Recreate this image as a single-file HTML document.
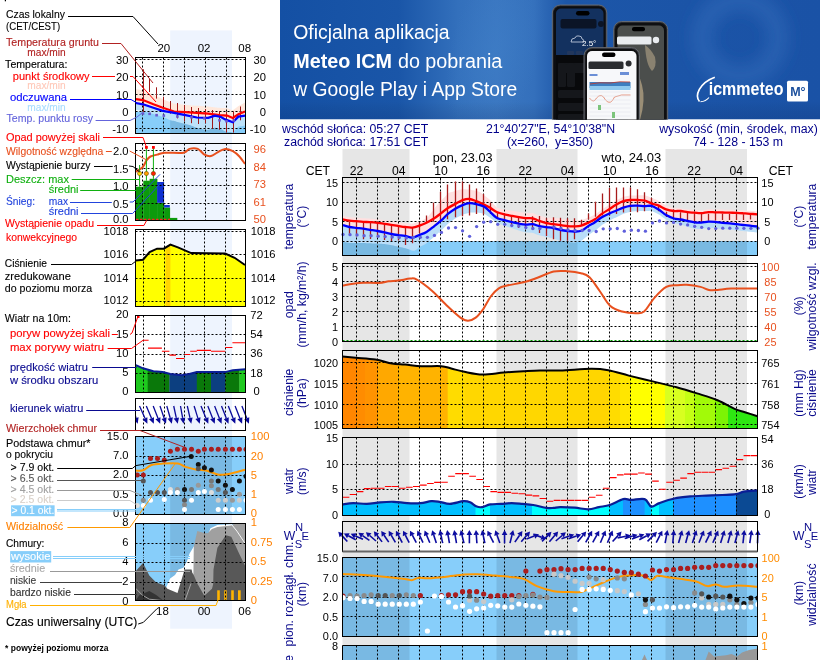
<!DOCTYPE html>
<html><head><meta charset="utf-8"><title>Meteogram ICM</title>
<style>
html,body{margin:0;padding:0;background:#fff;width:820px;height:660px;overflow:hidden}
svg{display:block}
svg text{font-family:'Liberation Sans', Arial, sans-serif}
</style></head><body>
<svg width="820" height="660" viewBox="0 0 820 660">
<rect width="820" height="660" fill="#fff"/>
<rect x="342.5" y="149" width="67.0" height="511" fill="#e6e6e6"/>
<rect x="496.5" y="149" width="81.0" height="511" fill="#e6e6e6"/>
<rect x="665.5" y="149" width="81.5" height="511" fill="#e6e6e6"/>
<clipPath id="cT"><rect x="342.5" y="177.5" width="415.0" height="78.0"/></clipPath>
<g clip-path="url(#cT)">
<rect x="342.5" y="241.2" width="415.0" height="14.800000000000011" fill="#86cdf9"/>
<rect x="342.5" y="241.2" width="67.0" height="14.800000000000011" fill="#79b9e1"/>
<rect x="496.5" y="241.2" width="81.0" height="14.800000000000011" fill="#79b9e1"/>
<rect x="665.5" y="241.2" width="81.5" height="14.800000000000011" fill="#79b9e1"/>
<polygon points="342.50,215.90 344.00,216.17 345.50,216.44 347.00,216.71 348.50,216.98 350.00,217.19 351.50,217.32 353.00,217.44 354.50,217.56 356.00,217.68 357.50,217.80 359.00,217.92 360.50,218.03 362.00,218.15 363.50,218.26 365.00,218.34 366.50,218.41 368.00,218.49 369.50,218.57 371.00,218.68 372.50,218.80 374.00,218.93 375.50,219.05 377.00,219.18 378.50,219.34 380.00,219.53 381.50,219.71 383.00,219.90 384.50,220.09 386.00,220.30 387.50,220.51 389.00,220.72 390.50,220.93 392.00,221.14 393.50,221.37 395.00,221.60 396.50,221.83 398.00,222.05 399.50,222.29 401.00,222.52 402.50,222.75 404.00,222.98 405.50,223.16 407.00,223.27 408.50,223.38 410.00,223.49 411.50,223.60 413.00,223.46 414.50,223.04 416.00,222.62 417.50,222.19 419.00,221.77 420.50,221.19 422.00,220.48 423.50,219.76 425.00,219.04 426.50,218.33 428.00,216.75 429.50,214.86 431.00,212.96 432.50,211.07 434.00,209.17 435.50,207.06 437.00,204.90 438.50,203.39 440.00,201.88 441.50,200.37 443.00,198.81 444.50,197.24 446.00,195.68 447.50,194.11 449.00,192.79 450.50,192.35 452.00,191.90 453.50,191.46 455.00,191.02 456.50,190.61 458.00,190.23 459.50,189.85 461.00,189.47 462.50,189.09 464.00,189.18 465.50,189.30 467.00,189.41 468.50,189.53 470.00,189.59 471.50,189.91 473.00,190.23 474.50,190.55 476.00,190.87 477.50,191.34 479.00,191.82 480.50,192.51 482.00,193.59 483.50,194.72 485.00,195.92 486.50,197.11 488.00,198.31 489.50,199.50 491.00,201.06 492.50,202.76 494.00,204.46 495.50,206.16 497.00,207.72 498.50,208.11 500.00,208.50 501.50,208.88 503.00,209.27 504.50,209.64 506.00,209.86 507.50,210.07 509.00,210.28 510.50,210.56 512.00,210.83 513.50,211.08 515.00,211.33 516.50,211.58 518.00,211.83 519.50,212.06 521.00,212.27 522.50,212.47 524.00,212.67 525.50,212.87 527.00,212.95 528.50,212.97 530.00,213.00 531.50,213.03 533.00,213.18 534.50,213.78 536.00,214.39 537.50,214.99 539.00,215.51 540.50,215.90 542.00,216.30 543.50,216.70 545.00,217.10 546.50,217.46 548.00,217.58 549.50,217.69 551.00,217.80 552.50,217.92 554.00,218.03 555.50,218.14 557.00,218.26 558.50,218.37 560.00,218.48 561.50,218.77 563.00,219.07 564.50,219.37 566.00,219.66 567.50,219.96 569.00,220.11 570.50,220.23 572.00,220.36 573.50,220.48 575.00,220.54 576.50,220.46 578.00,220.38 579.50,220.31 581.00,220.23 582.50,219.78 584.00,219.23 585.50,218.67 587.00,218.12 588.50,217.55 590.00,216.88 591.50,216.20 593.00,215.53 594.50,214.86 596.00,213.90 597.50,212.78 599.00,211.67 600.50,210.53 602.00,209.37 603.50,208.43 605.00,207.49 606.50,206.55 608.00,205.61 609.50,204.66 611.00,203.71 612.50,202.75 614.00,201.79 615.50,200.84 617.00,199.95 618.50,199.20 620.00,198.45 621.50,197.70 623.00,196.95 624.50,196.59 626.00,196.32 627.50,196.05 629.00,195.78 630.50,195.60 632.00,195.60 633.50,195.60 635.00,195.60 636.50,195.47 638.00,195.35 639.50,195.33 641.00,195.31 642.50,195.29 644.00,195.27 645.50,195.56 647.00,196.06 648.50,196.56 650.00,197.06 651.50,197.67 653.00,198.31 654.50,198.95 656.00,199.60 657.50,200.24 659.00,201.03 660.50,201.98 662.00,202.93 663.50,203.88 665.00,204.84 666.50,205.68 668.00,206.21 669.50,206.73 671.00,207.26 672.50,207.79 674.00,208.30 675.50,208.29 677.00,208.29 678.50,208.28 680.00,208.28 681.50,208.41 683.00,208.67 684.50,208.92 686.00,209.18 687.50,209.43 689.00,209.55 690.50,209.65 692.00,209.76 693.50,209.86 695.00,209.97 696.50,210.07 698.00,210.18 699.50,210.28 701.00,210.39 702.50,210.20 704.00,209.96 705.50,209.72 707.00,209.48 708.50,209.28 710.00,209.32 711.50,209.36 713.00,209.40 714.50,209.44 716.00,209.48 717.50,209.51 719.00,209.54 720.50,209.58 722.00,209.61 723.50,209.65 725.00,209.68 726.50,209.72 728.00,209.75 729.50,209.79 731.00,209.83 732.50,209.86 734.00,209.90 735.50,209.94 737.00,209.99 738.50,210.08 740.00,210.16 741.50,210.25 743.00,210.33 744.50,210.44 746.00,210.54 747.50,210.65 749.00,210.76 750.50,210.86 752.00,210.95 753.50,211.05 755.00,211.14 756.50,211.24 758.00,211.30 758.00,226.50 756.50,226.39 755.00,226.23 753.50,226.07 752.00,225.91 750.50,225.75 749.00,225.60 747.50,225.44 746.00,225.28 744.50,225.13 743.00,224.96 741.50,224.78 740.00,224.60 738.50,224.42 737.00,224.24 735.50,224.04 734.00,223.84 732.50,223.64 731.00,223.43 729.50,223.27 728.00,223.19 726.50,223.11 725.00,223.03 723.50,222.95 722.00,222.83 720.50,222.63 719.00,222.43 717.50,222.23 716.00,222.03 714.50,221.89 713.00,221.84 711.50,221.80 710.00,221.75 708.50,221.71 707.00,221.86 705.50,222.05 704.00,222.25 702.50,222.44 701.00,222.59 699.50,222.55 698.00,222.51 696.50,222.46 695.00,222.42 693.50,222.21 692.00,221.91 690.50,221.60 689.00,221.29 687.50,220.98 686.00,220.65 684.50,220.33 683.00,220.00 681.50,219.67 680.00,219.40 678.50,219.18 677.00,218.96 675.50,218.74 674.00,218.51 672.50,217.89 671.00,217.24 669.50,216.58 668.00,215.93 666.50,215.27 665.00,214.28 663.50,213.17 662.00,212.05 660.50,210.94 659.00,209.82 657.50,208.90 656.00,208.15 654.50,207.40 653.00,206.65 651.50,205.90 650.00,205.94 648.50,205.99 647.00,206.03 645.50,206.07 644.00,206.06 642.50,205.95 641.00,205.84 639.50,205.72 638.00,205.61 636.50,205.63 635.00,205.67 633.50,205.71 632.00,205.75 630.50,205.79 629.00,206.09 627.50,206.49 626.00,206.89 624.50,207.28 623.00,207.73 621.50,208.37 620.00,209.01 618.50,209.65 617.00,210.29 615.50,210.92 614.00,211.55 612.50,212.18 611.00,212.81 609.50,213.45 608.00,214.20 606.50,214.95 605.00,215.70 603.50,216.45 602.00,217.20 600.50,218.24 599.00,219.32 597.50,220.40 596.00,221.48 594.50,222.49 593.00,223.35 591.50,224.21 590.00,225.07 588.50,225.93 587.00,226.92 585.50,227.94 584.00,228.96 582.50,229.98 581.00,230.83 579.50,230.99 578.00,231.14 576.50,231.29 575.00,231.45 573.50,231.43 572.00,231.32 570.50,231.21 569.00,231.10 567.50,230.97 566.00,230.75 564.50,230.53 563.00,230.31 561.50,230.09 560.00,229.77 558.50,229.38 557.00,228.99 555.50,228.60 554.00,228.21 552.50,227.91 551.00,227.71 549.50,227.52 548.00,227.32 546.50,227.13 545.00,226.90 543.50,226.67 542.00,226.44 540.50,226.21 539.00,225.98 537.50,225.59 536.00,225.12 534.50,224.66 533.00,224.19 531.50,224.19 530.00,224.30 528.50,224.41 527.00,224.52 525.50,224.55 524.00,224.35 522.50,224.16 521.00,223.96 519.50,223.77 518.00,223.48 516.50,223.15 515.00,222.82 513.50,222.49 512.00,222.15 510.50,221.76 509.00,221.38 507.50,220.99 506.00,220.61 504.50,220.23 503.00,219.77 501.50,219.31 500.00,218.85 498.50,218.38 497.00,217.92 495.50,216.78 494.00,215.39 492.50,214.00 491.00,212.61 489.50,211.25 488.00,210.01 486.50,208.76 485.00,207.51 483.50,206.47 482.00,205.98 480.50,205.50 479.00,205.01 477.50,204.52 476.00,204.07 474.50,203.88 473.00,203.68 471.50,203.48 470.00,203.28 468.50,203.45 467.00,203.87 465.50,204.29 464.00,204.71 462.50,205.15 461.00,205.89 459.50,206.63 458.00,207.37 456.50,208.11 455.00,208.98 453.50,210.02 452.00,211.06 450.50,212.10 449.00,213.14 447.50,214.30 446.00,215.80 444.50,217.30 443.00,218.80 441.50,220.28 440.00,221.49 438.50,222.71 437.00,223.92 435.50,225.13 434.00,226.33 432.50,227.46 431.00,228.60 429.50,229.73 428.00,230.87 426.50,232.00 425.00,232.63 423.50,233.26 422.00,233.89 420.50,234.52 419.00,235.12 417.50,235.68 416.00,236.23 414.50,236.79 413.00,237.34 411.50,237.42 410.00,237.07 408.50,236.73 407.00,236.38 405.50,236.04 404.00,235.79 402.50,235.62 401.00,235.44 399.50,235.26 398.00,235.08 396.50,234.84 395.00,234.61 393.50,234.37 392.00,234.13 390.50,233.83 389.00,233.45 387.50,233.08 386.00,232.70 384.50,232.33 383.00,232.03 381.50,231.75 380.00,231.46 378.50,231.17 377.00,230.91 375.50,230.67 374.00,230.44 372.50,230.21 371.00,229.97 369.50,229.74 368.00,229.49 366.50,229.25 365.00,229.01 363.50,228.76 362.00,228.57 360.50,228.40 359.00,228.22 357.50,228.05 356.00,227.87 354.50,227.68 353.00,227.48 351.50,227.28 350.00,227.08 348.50,226.74 347.00,226.30 345.50,225.87 344.00,225.43 342.50,225.00" fill="#ffe0e0"/>
<polygon points="342.50,225.00 344.00,225.43 345.50,225.87 347.00,226.30 348.50,226.74 350.00,227.08 351.50,227.28 353.00,227.48 354.50,227.68 356.00,227.87 357.50,228.05 359.00,228.22 360.50,228.40 362.00,228.57 363.50,228.76 365.00,229.01 366.50,229.25 368.00,229.49 369.50,229.74 371.00,229.97 372.50,230.21 374.00,230.44 375.50,230.67 377.00,230.91 378.50,231.17 380.00,231.46 381.50,231.75 383.00,232.03 384.50,232.33 386.00,232.70 387.50,233.08 389.00,233.45 390.50,233.83 392.00,234.13 393.50,234.37 395.00,234.61 396.50,234.84 398.00,235.08 399.50,235.26 401.00,235.44 402.50,235.62 404.00,235.79 405.50,236.04 407.00,236.38 408.50,236.73 410.00,237.07 411.50,237.42 413.00,237.34 414.50,236.79 416.00,236.23 417.50,235.68 419.00,235.12 420.50,234.52 422.00,233.89 423.50,233.26 425.00,232.63 426.50,232.00 428.00,230.87 429.50,229.73 431.00,228.60 432.50,227.46 434.00,226.33 435.50,225.13 437.00,223.92 438.50,222.71 440.00,221.49 441.50,220.28 443.00,218.80 444.50,217.30 446.00,215.80 447.50,214.30 449.00,213.14 450.50,212.10 452.00,211.06 453.50,210.02 455.00,208.98 456.50,208.11 458.00,207.37 459.50,206.63 461.00,205.89 462.50,205.15 464.00,204.71 465.50,204.29 467.00,203.87 468.50,203.45 470.00,203.28 471.50,203.48 473.00,203.68 474.50,203.88 476.00,204.07 477.50,204.52 479.00,205.01 480.50,205.50 482.00,205.98 483.50,206.47 485.00,207.51 486.50,208.76 488.00,210.01 489.50,211.25 491.00,212.61 492.50,214.00 494.00,215.39 495.50,216.78 497.00,217.92 498.50,218.38 500.00,218.85 501.50,219.31 503.00,219.77 504.50,220.23 506.00,220.61 507.50,220.99 509.00,221.38 510.50,221.76 512.00,222.15 513.50,222.49 515.00,222.82 516.50,223.15 518.00,223.48 519.50,223.77 521.00,223.96 522.50,224.16 524.00,224.35 525.50,224.55 527.00,224.52 528.50,224.41 530.00,224.30 531.50,224.19 533.00,224.19 534.50,224.66 536.00,225.12 537.50,225.59 539.00,225.98 540.50,226.21 542.00,226.44 543.50,226.67 545.00,226.90 546.50,227.13 548.00,227.32 549.50,227.52 551.00,227.71 552.50,227.91 554.00,228.21 555.50,228.60 557.00,228.99 558.50,229.38 560.00,229.77 561.50,230.09 563.00,230.31 564.50,230.53 566.00,230.75 567.50,230.97 569.00,231.10 570.50,231.21 572.00,231.32 573.50,231.43 575.00,231.45 576.50,231.29 578.00,231.14 579.50,230.99 581.00,230.83 582.50,229.98 584.00,228.96 585.50,227.94 587.00,226.92 588.50,225.93 590.00,225.07 591.50,224.21 593.00,223.35 594.50,222.49 596.00,221.48 597.50,220.40 599.00,219.32 600.50,218.24 602.00,217.20 603.50,216.45 605.00,215.70 606.50,214.95 608.00,214.20 609.50,213.45 611.00,212.81 612.50,212.18 614.00,211.55 615.50,210.92 617.00,210.29 618.50,209.65 620.00,209.01 621.50,208.37 623.00,207.73 624.50,207.28 626.00,206.89 627.50,206.49 629.00,206.09 630.50,205.79 632.00,205.75 633.50,205.71 635.00,205.67 636.50,205.63 638.00,205.61 639.50,205.72 641.00,205.84 642.50,205.95 644.00,206.06 645.50,206.07 647.00,206.03 648.50,205.99 650.00,205.94 651.50,205.90 653.00,206.65 654.50,207.40 656.00,208.15 657.50,208.90 659.00,209.82 660.50,210.94 662.00,212.05 663.50,213.17 665.00,214.28 666.50,215.27 668.00,215.93 669.50,216.58 671.00,217.24 672.50,217.89 674.00,218.51 675.50,218.74 677.00,218.96 678.50,219.18 680.00,219.40 681.50,219.67 683.00,220.00 684.50,220.33 686.00,220.65 687.50,220.98 689.00,221.29 690.50,221.60 692.00,221.91 693.50,222.21 695.00,222.42 696.50,222.46 698.00,222.51 699.50,222.55 701.00,222.59 702.50,222.44 704.00,222.25 705.50,222.05 707.00,221.86 708.50,221.71 710.00,221.75 711.50,221.80 713.00,221.84 714.50,221.89 716.00,222.03 717.50,222.23 719.00,222.43 720.50,222.63 722.00,222.83 723.50,222.95 725.00,223.03 726.50,223.11 728.00,223.19 729.50,223.27 731.00,223.43 732.50,223.64 734.00,223.84 735.50,224.04 737.00,224.24 738.50,224.42 740.00,224.60 741.50,224.78 743.00,224.96 744.50,225.13 746.00,225.28 747.50,225.44 749.00,225.60 750.50,225.75 752.00,225.91 753.50,226.07 755.00,226.23 756.50,226.39 758.00,226.50 758.00,232.50 756.50,232.40 755.00,232.25 753.50,232.10 752.00,231.95 750.50,231.80 749.00,231.65 747.50,231.50 746.00,231.35 744.50,231.21 743.00,231.05 741.50,230.88 740.00,230.71 738.50,230.54 737.00,230.37 735.50,230.18 734.00,229.99 732.50,229.79 731.00,229.60 729.50,229.45 728.00,229.38 726.50,229.31 725.00,229.24 723.50,229.17 722.00,229.06 720.50,228.87 719.00,228.68 717.50,228.49 716.00,228.29 714.50,228.16 713.00,228.12 711.50,228.09 710.00,228.05 708.50,228.01 707.00,228.18 705.50,228.38 704.00,228.58 702.50,228.78 701.00,228.95 699.50,228.92 698.00,228.88 696.50,228.85 695.00,228.81 693.50,228.56 692.00,228.11 690.50,227.65 689.00,227.19 687.50,226.73 686.00,226.25 684.50,225.78 683.00,225.30 681.50,224.82 680.00,224.40 678.50,224.03 677.00,223.66 675.50,223.29 674.00,222.91 672.50,222.32 671.00,221.70 669.50,221.08 668.00,220.45 666.50,219.83 665.00,218.87 663.50,217.78 662.00,216.70 660.50,215.62 659.00,214.53 657.50,213.64 656.00,212.92 654.50,212.20 653.00,211.48 651.50,210.77 650.00,210.84 648.50,210.91 647.00,210.99 645.50,211.06 644.00,211.12 642.50,211.11 641.00,211.10 639.50,211.09 638.00,211.08 636.50,211.20 635.00,211.34 633.50,211.48 632.00,211.62 630.50,211.76 629.00,212.14 627.50,212.61 626.00,213.09 624.50,213.56 623.00,214.08 621.50,214.79 620.00,215.51 618.50,216.22 617.00,216.94 615.50,217.65 614.00,218.35 612.50,219.06 611.00,219.76 609.50,220.50 608.00,221.40 606.50,222.30 605.00,223.20 603.50,224.10 602.00,225.00 600.50,226.19 599.00,227.42 597.50,228.65 596.00,229.88 594.50,231.04 593.00,232.05 591.50,233.06 590.00,234.07 588.50,235.13 587.00,236.32 585.50,237.54 584.00,238.76 582.50,239.98 581.00,241.03 579.50,241.39 578.00,241.74 576.50,242.09 575.00,242.45 573.50,242.43 572.00,242.32 570.50,242.21 569.00,242.10 567.50,241.97 566.00,241.75 564.50,241.53 563.00,241.31 561.50,241.09 560.00,240.77 558.50,240.25 557.00,239.74 555.50,239.23 554.00,238.72 552.50,238.30 551.00,237.98 549.50,237.66 548.00,237.34 546.50,237.03 545.00,236.68 543.50,236.32 542.00,235.97 540.50,235.62 539.00,235.27 537.50,234.76 536.00,234.17 534.50,233.58 533.00,232.99 531.50,232.79 530.00,232.70 528.50,232.61 527.00,232.52 525.50,232.35 524.00,231.95 522.50,231.56 521.00,231.16 519.50,230.77 518.00,230.28 516.50,229.75 515.00,229.22 513.50,228.69 512.00,228.15 510.50,227.67 509.00,227.19 507.50,226.71 506.00,226.24 504.50,225.76 503.00,225.21 501.50,224.65 500.00,224.10 498.50,223.54 497.00,222.99 495.50,221.86 494.00,220.72 492.50,219.58 491.00,218.45 489.50,217.33 488.00,216.34 486.50,215.34 485.00,214.35 483.50,213.55 482.00,213.32 480.50,213.08 479.00,212.84 477.50,212.61 476.00,212.41 474.50,212.46 473.00,212.51 471.50,212.56 470.00,212.61 468.50,212.96 467.00,213.41 465.50,213.85 464.00,214.30 462.50,214.76 461.00,215.53 459.50,216.29 458.00,217.06 456.50,217.82 455.00,218.73 453.50,219.79 452.00,220.85 450.50,221.92 449.00,222.98 447.50,224.17 446.00,225.70 444.50,227.22 443.00,228.75 441.50,230.25 440.00,231.49 438.50,232.86 437.00,234.22 435.50,235.58 434.00,236.93 432.50,238.21 431.00,239.50 429.50,240.78 428.00,242.07 426.50,243.35 425.00,244.13 423.50,244.91 422.00,245.69 420.50,246.47 419.00,247.52 417.50,248.68 416.00,249.83 414.50,250.65 413.00,250.78 411.50,250.44 410.00,249.67 408.50,249.20 407.00,248.73 405.50,248.26 404.00,247.89 402.50,247.59 401.00,247.28 399.50,246.98 398.00,246.67 396.50,246.31 395.00,245.94 393.50,245.58 392.00,245.21 390.50,244.88 389.00,244.69 387.50,244.49 386.00,244.29 384.50,244.09 383.00,243.97 381.50,243.86 380.00,243.75 378.50,243.64 377.00,243.55 375.50,243.49 374.00,243.44 372.50,243.38 371.00,243.32 369.50,243.26 368.00,243.20 366.50,243.13 365.00,243.06 363.50,243.00 362.00,242.98 360.50,242.98 359.00,242.99 357.50,242.99 356.00,242.99 354.50,242.96 353.00,242.94 351.50,242.92 350.00,242.90 348.50,242.73 347.00,242.48 345.50,242.22 344.00,241.96 342.50,241.70" fill="#b9ddf8"/>
</g>
<clipPath id="cP"><rect x="342.5" y="350.5" width="415.0" height="78.0"/></clipPath>
<defs><clipPath id="cPf"><path d="M342.50,356.40 C344.70,356.62 350.20,357.17 355.70,357.70 C361.20,358.23 369.45,358.62 375.50,359.60 C381.55,360.58 387.07,362.77 392.00,363.60 C396.93,364.43 400.17,364.17 405.10,364.60 C410.03,365.03 415.57,365.93 421.60,366.20 C427.63,366.47 436.37,365.82 441.30,366.20 C446.23,366.58 447.35,367.57 451.20,368.50 C455.05,369.43 459.18,370.80 464.40,371.80 C469.62,372.80 475.92,374.38 482.50,374.50 C489.08,374.62 497.05,373.05 503.90,372.50 C510.75,371.95 517.58,371.55 523.60,371.20 C529.62,370.85 533.85,370.52 540.00,370.40 C546.15,370.28 551.97,370.77 560.50,370.50 C569.03,370.23 583.23,368.85 591.20,368.80 C599.17,368.75 602.03,369.07 608.30,370.20 C614.57,371.33 621.40,373.73 628.80,375.60 C636.20,377.47 644.73,379.45 652.70,381.40 C660.67,383.35 669.22,385.30 676.60,387.30 C683.98,389.30 690.18,391.25 697.00,393.40 C703.82,395.55 711.23,397.63 717.50,400.20 C723.77,402.77 730.03,406.80 734.60,408.80 C739.17,410.80 741.08,410.95 744.90,412.20 C748.72,413.45 755.40,415.62 757.50,416.30 L757.5,430 L342.5,430 Z"/></clipPath></defs>
<g clip-path="url(#cP)"><g clip-path="url(#cPf)">
<rect x="342.5" y="350.5" width="14.1" height="78.0" fill="#ff8600"/>
<rect x="356.0" y="350.5" width="9.6" height="78.0" fill="#ff8c00"/>
<rect x="365.0" y="350.5" width="13.2" height="78.0" fill="#ff9300"/>
<rect x="377.6" y="350.5" width="20.7" height="78.0" fill="#ffa800"/>
<rect x="397.7" y="350.5" width="50.6" height="78.0" fill="#ffb300"/>
<rect x="447.7" y="350.5" width="17.9" height="78.0" fill="#ffdc00"/>
<rect x="465.0" y="350.5" width="125.6" height="78.0" fill="#ffd700"/>
<rect x="590.0" y="350.5" width="10.6" height="78.0" fill="#ffd600"/>
<rect x="600.0" y="350.5" width="8.6" height="78.0" fill="#ffd500"/>
<rect x="608.0" y="350.5" width="12.6" height="78.0" fill="#ffdc00"/>
<rect x="620.0" y="350.5" width="10.6" height="78.0" fill="#ffe600"/>
<rect x="630.0" y="350.5" width="35.6" height="78.0" fill="#ffff00"/>
<rect x="665.0" y="350.5" width="20.6" height="78.0" fill="#d8ff20"/>
<rect x="685.0" y="350.5" width="10.6" height="78.0" fill="#c4ff14"/>
<rect x="695.0" y="350.5" width="20.6" height="78.0" fill="#a2fa08"/>
<rect x="715.0" y="350.5" width="13.6" height="78.0" fill="#7cf404"/>
<rect x="728.0" y="350.5" width="30.1" height="78.0" fill="#2ee812"/>
</g></g>
<clipPath id="cW"><rect x="342.5" y="437.5" width="415.0" height="78.0"/></clipPath>
<defs><clipPath id="cWf"><path d="M342.50,504.40 C344.32,504.18 349.35,503.18 353.40,503.10 C357.45,503.02 362.33,504.03 366.80,503.90 C371.27,503.77 375.72,502.65 380.20,502.30 C384.68,501.95 389.23,501.67 393.70,501.80 C398.17,501.93 402.53,502.88 407.00,503.10 C411.47,503.32 416.47,503.42 420.50,503.10 C424.53,502.78 428.07,501.42 431.20,501.20 C434.33,500.98 436.17,501.35 439.30,501.80 C442.43,502.25 445.98,504.00 450.00,503.90 C454.02,503.80 460.05,501.47 463.40,501.20 C466.75,500.93 467.87,501.40 470.10,502.30 C472.33,503.20 474.78,505.80 476.80,506.60 C478.82,507.40 479.97,507.47 482.20,507.10 C484.43,506.73 487.07,504.93 490.20,504.40 C493.33,503.87 497.42,504.12 501.00,503.90 C504.58,503.68 508.13,503.10 511.70,503.10 C515.27,503.10 518.82,503.58 522.40,503.90 C525.98,504.22 529.17,504.33 533.20,505.00 C537.23,505.67 543.18,507.42 546.60,507.90 C550.02,508.38 551.45,508.03 553.70,507.90 C555.95,507.77 556.57,507.13 560.10,507.10 C563.63,507.07 570.20,507.33 574.90,507.70 C579.60,508.07 584.28,509.40 588.30,509.30 C592.32,509.20 595.42,507.82 599.00,507.10 C602.58,506.38 605.77,506.33 609.80,505.00 C613.83,503.67 619.63,499.95 623.20,499.10 C626.77,498.25 627.63,499.90 631.20,499.90 C634.77,499.90 641.25,497.98 644.60,499.10 C647.95,500.22 648.83,505.93 651.30,506.60 C653.77,507.27 655.58,504.45 659.40,503.10 C663.22,501.75 669.05,499.62 674.20,498.50 C679.35,497.38 684.93,496.88 690.30,496.40 C695.67,495.92 701.05,495.83 706.40,495.60 C711.75,495.37 717.48,495.23 722.40,495.00 C727.32,494.77 732.32,494.77 735.90,494.20 C739.48,493.63 740.30,492.22 743.90,491.60 C747.50,490.98 755.23,490.68 757.50,490.50 L757.5,517 L342.5,517 Z"/></clipPath></defs>
<g clip-path="url(#cW)"><g clip-path="url(#cWf)">
<rect x="342.5" y="437.5" width="133.6" height="78.0" fill="#00bfff"/>
<rect x="475.5" y="437.5" width="15.1" height="78.0" fill="#00ffff"/>
<rect x="490.0" y="437.5" width="42.6" height="78.0" fill="#00bfff"/>
<rect x="532.0" y="437.5" width="78.2" height="78.0" fill="#00ffff"/>
<rect x="609.6" y="437.5" width="14.0" height="78.0" fill="#00bfff"/>
<rect x="623.0" y="437.5" width="22.2" height="78.0" fill="#1e90ff"/>
<rect x="644.6" y="437.5" width="7.0" height="78.0" fill="#00bfff"/>
<rect x="651.0" y="437.5" width="8.6" height="78.0" fill="#00ffff"/>
<rect x="659.0" y="437.5" width="14.6" height="78.0" fill="#00bfff"/>
<rect x="673.0" y="437.5" width="63.6" height="78.0" fill="#1e90ff"/>
<rect x="736.0" y="437.5" width="22.1" height="78.0" fill="#0b4a94"/>
</g></g>
<rect x="342.5" y="557.5" width="415.0" height="79.0" fill="#87cefa"/>
<rect x="342.5" y="557.5" width="67.0" height="79.0" fill="#79b9e3"/>
<rect x="496.5" y="557.5" width="81.0" height="79.0" fill="#79b9e3"/>
<rect x="665.5" y="557.5" width="81.5" height="79.0" fill="#79b9e3"/>
<rect x="342.5" y="645.5" width="415.0" height="14.5" fill="#87cefa"/>
<rect x="342.5" y="645.5" width="67.0" height="14.5" fill="#79b9e3"/>
<rect x="496.5" y="645.5" width="81.0" height="14.5" fill="#79b9e3"/>
<rect x="665.5" y="645.5" width="81.5" height="14.5" fill="#79b9e3"/>
<path d="M705.5,660 L708.7,651.4 L714,656.5 L726,655.2 L731.5,654 L737,656.5 L742,652.6 L749,650 L757.5,648.6 L757.5,660 Z" fill="#999"/>
<path d="M642,660 L644.5,654.5 L647,660 Z" fill="#999"/>
<line x1="342.5" y1="182.5" x2="757.5" y2="182.5" stroke="#000" stroke-width="1" stroke-dasharray="2,2" fill="none"/>
<line x1="342.5" y1="202.5" x2="757.5" y2="202.5" stroke="#000" stroke-width="1" stroke-dasharray="2,2" fill="none"/>
<line x1="342.5" y1="221.5" x2="757.5" y2="221.5" stroke="#000" stroke-width="1" stroke-dasharray="2,2" fill="none"/>
<line x1="342.5" y1="241.5" x2="757.5" y2="241.5" stroke="#000" stroke-width="1" stroke-dasharray="2,2" fill="none"/>
<path d="M356.5,177.5 L356.5,255.5 M377.5,177.5 L377.5,255.5 M398.5,177.5 L398.5,255.5 M419.5,177.5 L419.5,255.5 M440.5,177.5 L440.5,255.5 M462.5,177.5 L462.5,255.5 M483.5,177.5 L483.5,255.5 M504.5,177.5 L504.5,255.5 M525.5,177.5 L525.5,255.5 M546.5,177.5 L546.5,255.5 M567.5,177.5 L567.5,255.5 M588.5,177.5 L588.5,255.5 M609.5,177.5 L609.5,255.5 M630.5,177.5 L630.5,255.5 M651.5,177.5 L651.5,255.5 M673.5,177.5 L673.5,255.5 M694.5,177.5 L694.5,255.5 M715.5,177.5 L715.5,255.5 M736.5,177.5 L736.5,255.5 " stroke="#000" stroke-width="1" stroke-dasharray="2,2" fill="none"/>
<line x1="342.5" y1="266.5" x2="757.5" y2="266.5" stroke="#000" stroke-width="1" stroke-dasharray="2,2" fill="none"/>
<line x1="342.5" y1="281.5" x2="757.5" y2="281.5" stroke="#000" stroke-width="1" stroke-dasharray="2,2" fill="none"/>
<line x1="342.5" y1="296.5" x2="757.5" y2="296.5" stroke="#000" stroke-width="1" stroke-dasharray="2,2" fill="none"/>
<line x1="342.5" y1="311.5" x2="757.5" y2="311.5" stroke="#000" stroke-width="1" stroke-dasharray="2,2" fill="none"/>
<line x1="342.5" y1="326.5" x2="757.5" y2="326.5" stroke="#000" stroke-width="1" stroke-dasharray="2,2" fill="none"/>
<path d="M356.5,263.5 L356.5,341.5 M377.5,263.5 L377.5,341.5 M398.5,263.5 L398.5,341.5 M419.5,263.5 L419.5,341.5 M440.5,263.5 L440.5,341.5 M462.5,263.5 L462.5,341.5 M483.5,263.5 L483.5,341.5 M504.5,263.5 L504.5,341.5 M525.5,263.5 L525.5,341.5 M546.5,263.5 L546.5,341.5 M567.5,263.5 L567.5,341.5 M588.5,263.5 L588.5,341.5 M609.5,263.5 L609.5,341.5 M630.5,263.5 L630.5,341.5 M651.5,263.5 L651.5,341.5 M673.5,263.5 L673.5,341.5 M694.5,263.5 L694.5,341.5 M715.5,263.5 L715.5,341.5 M736.5,263.5 L736.5,341.5 " stroke="#000" stroke-width="1" stroke-dasharray="2,2" fill="none"/>
<line x1="342.5" y1="362.5" x2="757.5" y2="362.5" stroke="#000" stroke-width="1" stroke-dasharray="2,2" fill="none"/>
<line x1="342.5" y1="383.5" x2="757.5" y2="383.5" stroke="#000" stroke-width="1" stroke-dasharray="2,2" fill="none"/>
<line x1="342.5" y1="404.5" x2="757.5" y2="404.5" stroke="#000" stroke-width="1" stroke-dasharray="2,2" fill="none"/>
<line x1="342.5" y1="424.5" x2="757.5" y2="424.5" stroke="#000" stroke-width="1" stroke-dasharray="2,2" fill="none"/>
<path d="M356.5,350.5 L356.5,428.5 M377.5,350.5 L377.5,428.5 M398.5,350.5 L398.5,428.5 M419.5,350.5 L419.5,428.5 M440.5,350.5 L440.5,428.5 M462.5,350.5 L462.5,428.5 M483.5,350.5 L483.5,428.5 M504.5,350.5 L504.5,428.5 M525.5,350.5 L525.5,428.5 M546.5,350.5 L546.5,428.5 M567.5,350.5 L567.5,428.5 M588.5,350.5 L588.5,428.5 M609.5,350.5 L609.5,428.5 M630.5,350.5 L630.5,428.5 M651.5,350.5 L651.5,428.5 M673.5,350.5 L673.5,428.5 M694.5,350.5 L694.5,428.5 M715.5,350.5 L715.5,428.5 M736.5,350.5 L736.5,428.5 " stroke="#000" stroke-width="1" stroke-dasharray="2,2" fill="none"/>
<line x1="342.5" y1="464.5" x2="757.5" y2="464.5" stroke="#000" stroke-width="1" stroke-dasharray="2,2" fill="none"/>
<line x1="342.5" y1="489.5" x2="757.5" y2="489.5" stroke="#000" stroke-width="1" stroke-dasharray="2,2" fill="none"/>
<path d="M356.5,437.5 L356.5,515.5 M377.5,437.5 L377.5,515.5 M398.5,437.5 L398.5,515.5 M419.5,437.5 L419.5,515.5 M440.5,437.5 L440.5,515.5 M462.5,437.5 L462.5,515.5 M483.5,437.5 L483.5,515.5 M504.5,437.5 L504.5,515.5 M525.5,437.5 L525.5,515.5 M546.5,437.5 L546.5,515.5 M567.5,437.5 L567.5,515.5 M588.5,437.5 L588.5,515.5 M609.5,437.5 L609.5,515.5 M630.5,437.5 L630.5,515.5 M651.5,437.5 L651.5,515.5 M673.5,437.5 L673.5,515.5 M694.5,437.5 L694.5,515.5 M715.5,437.5 L715.5,515.5 M736.5,437.5 L736.5,515.5 " stroke="#000" stroke-width="1" stroke-dasharray="2,2" fill="none"/>
<line x1="342.5" y1="576.5" x2="757.5" y2="576.5" stroke="#000" stroke-width="1" stroke-dasharray="2,2" fill="none"/>
<line x1="342.5" y1="597.5" x2="757.5" y2="597.5" stroke="#000" stroke-width="1" stroke-dasharray="2,2" fill="none"/>
<line x1="342.5" y1="616.5" x2="757.5" y2="616.5" stroke="#000" stroke-width="1" stroke-dasharray="2,2" fill="none"/>
<path d="M356.5,557.5 L356.5,636.5 M377.5,557.5 L377.5,636.5 M398.5,557.5 L398.5,636.5 M419.5,557.5 L419.5,636.5 M440.5,557.5 L440.5,636.5 M462.5,557.5 L462.5,636.5 M483.5,557.5 L483.5,636.5 M504.5,557.5 L504.5,636.5 M525.5,557.5 L525.5,636.5 M546.5,557.5 L546.5,636.5 M567.5,557.5 L567.5,636.5 M588.5,557.5 L588.5,636.5 M609.5,557.5 L609.5,636.5 M630.5,557.5 L630.5,636.5 M651.5,557.5 L651.5,636.5 M673.5,557.5 L673.5,636.5 M694.5,557.5 L694.5,636.5 M715.5,557.5 L715.5,636.5 M736.5,557.5 L736.5,636.5 " stroke="#000" stroke-width="1" stroke-dasharray="2,2" fill="none"/>
<path d="M356.5,645.5 L356.5,700 M377.5,645.5 L377.5,700 M398.5,645.5 L398.5,700 M419.5,645.5 L419.5,700 M440.5,645.5 L440.5,700 M462.5,645.5 L462.5,700 M483.5,645.5 L483.5,700 M504.5,645.5 L504.5,700 M525.5,645.5 L525.5,700 M546.5,645.5 L546.5,700 M567.5,645.5 L567.5,700 M588.5,645.5 L588.5,700 M609.5,645.5 L609.5,700 M630.5,645.5 L630.5,700 M651.5,645.5 L651.5,700 M673.5,645.5 L673.5,700 M694.5,645.5 L694.5,700 M715.5,645.5 L715.5,700 M736.5,645.5 L736.5,700 " stroke="#000" stroke-width="1" stroke-dasharray="2,2" fill="none"/>
<path d="M356.5,521.5 L356.5,551.5 M377.5,521.5 L377.5,551.5 M398.5,521.5 L398.5,551.5 M419.5,521.5 L419.5,551.5 M440.5,521.5 L440.5,551.5 M462.5,521.5 L462.5,551.5 M483.5,521.5 L483.5,551.5 M504.5,521.5 L504.5,551.5 M525.5,521.5 L525.5,551.5 M546.5,521.5 L546.5,551.5 M567.5,521.5 L567.5,551.5 M588.5,521.5 L588.5,551.5 M609.5,521.5 L609.5,551.5 M630.5,521.5 L630.5,551.5 M651.5,521.5 L651.5,551.5 M673.5,521.5 L673.5,551.5 M694.5,521.5 L694.5,551.5 M715.5,521.5 L715.5,551.5 M736.5,521.5 L736.5,551.5 " stroke="#000" stroke-width="1" stroke-dasharray="2,2" fill="none"/>
<path d="M349.5,221.7 L349.5,234.9 M356.5,221.5 L356.5,236.6 M363.5,222 L363.5,239.2 M370.5,222.3 L370.5,239 M377.5,223 L377.5,237.5 M384.5,223.8 L384.5,240 M391.5,224.8 L391.5,240.9 M398.5,226 L398.5,240.5 M405.5,226.8 L405.5,245.1 M412.5,227.5 L412.5,243.2 M419.5,222.2 L419.5,232.9 M426.5,215.4 L426.5,222.2 M433.5,202.7 L433.5,221.7 M440.5,191.8 L440.5,221.2 M447.5,184.4 L447.5,219.3 M455.5,181.5 L455.5,217.3 M462.5,181.5 L462.5,216.3 M469.5,184.4 L469.5,215.4 M476.5,188.4 L476.5,213.9 M483.5,193.9 L483.5,214.4 M490.5,202.7 L490.5,213.9 M497.5,212.4 L497.5,219.3 M504.5,214.9 L504.5,220.7 M511.5,215.9 L511.5,226.1 M518.5,216.3 L518.5,228 M525.5,217.8 L525.5,228 M532.5,216.3 L532.5,230 M539.5,215.9 L539.5,232.9 M546.5,218.3 L546.5,235.9 M553.5,217.3 L553.5,239.3 M560.5,217.8 L560.5,240.7 M567.5,218.3 L567.5,240.7 M574.5,218.3 L574.5,239.3 M581.5,219.8 L581.5,226.1 M588.5,213.4 L588.5,219.3 M595.5,201.7 L595.5,216.8 M602.5,193.4 L602.5,215.4 M609.5,188 L609.5,215.4 M616.5,187.4 L616.5,213.9 M623.5,187.4 L623.5,212.4 M630.5,187.4 L630.5,212 M637.5,189.3 L637.5,212.2 M644.5,192.2 L644.5,211.2 M651.5,198 L651.5,206.3 M658.5,205.4 L658.5,211.2 M666.5,211.7 L666.5,217.1 M673.5,210.7 L673.5,219 M680.5,212.2 L680.5,221 M687.5,212.7 L687.5,222 M694.5,213.2 L694.5,222.9 M701.5,213.5 L701.5,222.9 M708.5,213.8 L708.5,220.8 M715.5,212.5 L715.5,220.4 M722.5,213.8 L722.5,220 M729.5,213.8 L729.5,220 M736.5,213.8 L736.5,220 M743.5,214.2 L743.5,220 M750.5,214.6 L750.5,219.6 " stroke="#a81c1c" stroke-width="1.3" fill="none" clip-path="url(#cT)"/>
<path d="M342.50,219.30 C343.65,219.52 347.12,220.28 349.40,220.60 C351.68,220.92 353.92,221.00 356.20,221.20 C358.48,221.40 360.82,221.63 363.10,221.80 C365.38,221.97 367.48,222.02 369.90,222.20 C372.32,222.38 375.18,222.63 377.60,222.90 C380.02,223.17 382.13,223.48 384.40,223.80 C386.67,224.12 388.92,224.45 391.20,224.80 C393.48,225.15 395.82,225.53 398.10,225.90 C400.38,226.27 402.53,226.72 404.90,227.00 C407.27,227.28 409.85,227.83 412.30,227.60 C414.75,227.37 417.23,226.42 419.60,225.60 C421.97,224.78 424.05,223.92 426.50,222.70 C428.95,221.48 431.78,219.93 434.30,218.30 C436.82,216.67 439.33,214.62 441.60,212.90 C443.87,211.18 445.55,209.53 447.90,208.00 C450.25,206.47 453.25,205.00 455.70,203.70 C458.15,202.40 460.32,200.98 462.60,200.20 C464.88,199.42 467.13,198.83 469.40,199.00 C471.67,199.17 473.95,200.35 476.20,201.20 C478.45,202.05 480.63,203.03 482.90,204.10 C485.17,205.17 487.52,206.28 489.80,207.60 C492.08,208.92 494.17,210.87 496.60,212.00 C499.03,213.13 501.80,213.75 504.40,214.40 C507.00,215.05 509.77,215.45 512.20,215.90 C514.63,216.35 516.72,216.73 519.00,217.10 C521.28,217.47 523.62,217.90 525.90,218.10 C528.18,218.30 530.60,217.87 532.70,218.30 C534.80,218.73 536.23,219.88 538.50,220.70 C540.77,221.52 543.85,222.63 546.30,223.20 C548.75,223.77 550.77,223.78 553.20,224.10 C555.63,224.42 558.48,224.77 560.90,225.10 C563.32,225.43 565.43,225.90 567.70,226.10 C569.97,226.30 572.23,226.38 574.50,226.30 C576.77,226.22 579.02,226.20 581.30,225.60 C583.58,225.00 585.92,223.75 588.20,222.70 C590.48,221.65 592.73,220.77 595.00,219.30 C597.27,217.83 599.37,215.62 601.80,213.90 C604.23,212.18 607.15,210.55 609.60,209.00 C612.05,207.45 614.22,205.90 616.50,204.60 C618.78,203.30 621.05,201.97 623.30,201.20 C625.55,200.43 627.58,200.20 630.00,200.00 C632.42,199.80 635.37,199.92 637.80,200.00 C640.23,200.08 642.32,199.93 644.60,200.50 C646.88,201.07 649.22,202.58 651.50,203.40 C653.78,204.22 655.87,204.42 658.30,205.40 C660.73,206.38 663.50,208.37 666.10,209.30 C668.70,210.23 671.47,210.72 673.90,211.00 C676.33,211.28 678.42,210.80 680.70,211.00 C682.98,211.20 685.32,211.92 687.60,212.20 C689.88,212.48 692.13,212.53 694.40,212.70 C696.67,212.87 698.88,213.30 701.20,213.20 C703.52,213.10 706.00,212.25 708.30,212.10 C710.60,211.95 712.63,212.23 715.00,212.30 C717.37,212.37 720.00,212.43 722.50,212.50 C725.00,212.57 727.63,212.63 730.00,212.70 C732.37,212.77 734.48,212.80 736.70,212.90 C738.92,213.00 741.08,213.15 743.30,213.30 C745.52,213.45 747.63,213.63 750.00,213.80 C752.37,213.97 756.25,214.22 757.50,214.30" stroke="#ff0000" stroke-width="2.3" fill="none" clip-path="url(#cT)"/>
<path d="M342.50,225.00 C343.65,225.33 347.12,226.52 349.40,227.00 C351.68,227.48 353.92,227.62 356.20,227.90 C358.48,228.18 360.82,228.38 363.10,228.70 C365.38,229.02 367.48,229.42 369.90,229.80 C372.32,230.18 375.18,230.58 377.60,231.00 C380.02,231.42 382.13,231.80 384.40,232.30 C386.67,232.80 388.92,233.53 391.20,234.00 C393.48,234.47 395.82,234.78 398.10,235.10 C400.38,235.42 402.53,235.48 404.90,235.90 C407.27,236.32 409.85,237.77 412.30,237.60 C414.75,237.43 417.23,235.83 419.60,234.90 C421.97,233.97 424.05,233.47 426.50,232.00 C428.95,230.53 431.78,228.07 434.30,226.10 C436.82,224.13 439.33,222.23 441.60,220.20 C443.87,218.17 445.55,215.85 447.90,213.90 C450.25,211.95 453.25,209.97 455.70,208.50 C458.15,207.03 460.32,205.98 462.60,205.10 C464.88,204.22 467.13,203.37 469.40,203.20 C471.67,203.03 473.78,203.53 476.20,204.10 C478.62,204.67 481.63,205.37 483.90,206.60 C486.17,207.83 487.68,209.63 489.80,211.50 C491.92,213.37 494.17,216.35 496.60,217.80 C499.03,219.25 501.80,219.47 504.40,220.20 C507.00,220.93 509.77,221.62 512.20,222.20 C514.63,222.78 516.72,223.30 519.00,223.70 C521.28,224.10 523.62,224.53 525.90,224.60 C528.18,224.67 530.60,223.88 532.70,224.10 C534.80,224.32 536.23,225.40 538.50,225.90 C540.77,226.40 543.85,226.75 546.30,227.10 C548.75,227.45 550.77,227.52 553.20,228.00 C555.63,228.48 558.48,229.50 560.90,230.00 C563.32,230.50 565.43,230.75 567.70,231.00 C569.97,231.25 572.23,231.53 574.50,231.50 C576.77,231.47 579.02,231.70 581.30,230.80 C583.58,229.90 585.92,227.53 588.20,226.10 C590.48,224.67 592.73,223.67 595.00,222.20 C597.27,220.73 599.37,218.77 601.80,217.30 C604.23,215.83 607.15,214.53 609.60,213.40 C612.05,212.27 614.22,211.47 616.50,210.50 C618.78,209.53 621.03,208.38 623.30,207.60 C625.57,206.82 627.68,206.13 630.10,205.80 C632.52,205.47 635.38,205.55 637.80,205.60 C640.22,205.65 642.32,206.05 644.60,206.10 C646.88,206.15 649.22,205.37 651.50,205.90 C653.78,206.43 655.87,207.77 658.30,209.30 C660.73,210.83 663.50,213.57 666.10,215.10 C668.70,216.63 671.47,217.77 673.90,218.50 C676.33,219.23 678.42,219.08 680.70,219.50 C682.98,219.92 685.32,220.52 687.60,221.00 C689.88,221.48 692.13,222.13 694.40,222.40 C696.67,222.67 698.88,222.72 701.20,222.60 C703.52,222.48 706.00,221.82 708.30,221.70 C710.60,221.58 712.63,221.70 715.00,221.90 C717.37,222.10 720.00,222.67 722.50,222.90 C725.00,223.13 727.63,223.08 730.00,223.30 C732.37,223.52 734.48,223.92 736.70,224.20 C738.92,224.48 741.08,224.75 743.30,225.00 C745.52,225.25 747.63,225.45 750.00,225.70 C752.37,225.95 756.25,226.37 757.50,226.50" stroke="#0000ff" stroke-width="2.3" fill="none" clip-path="url(#cT)"/>
<circle cx="343.00" cy="234.5" r="1.65" fill="#5f5fdc"/>
<circle cx="350.03" cy="234.7" r="1.65" fill="#5f5fdc"/>
<circle cx="357.07" cy="234.9" r="1.65" fill="#5f5fdc"/>
<circle cx="364.10" cy="235.7" r="1.65" fill="#5f5fdc"/>
<circle cx="371.13" cy="235.7" r="1.65" fill="#5f5fdc"/>
<circle cx="378.17" cy="236.2" r="1.65" fill="#5f5fdc"/>
<circle cx="385.20" cy="236.6" r="1.65" fill="#5f5fdc"/>
<circle cx="392.23" cy="237" r="1.65" fill="#5f5fdc"/>
<circle cx="399.26" cy="237.5" r="1.65" fill="#5f5fdc"/>
<circle cx="406.30" cy="237.9" r="1.65" fill="#5f5fdc"/>
<circle cx="413.33" cy="237.3" r="1.65" fill="#5f5fdc"/>
<circle cx="420.36" cy="237.3" r="1.65" fill="#5f5fdc"/>
<circle cx="427.40" cy="237.3" r="1.65" fill="#5f5fdc"/>
<circle cx="434.43" cy="235.4" r="1.65" fill="#5f5fdc"/>
<circle cx="441.46" cy="232.4" r="1.65" fill="#5f5fdc"/>
<circle cx="448.50" cy="228" r="1.65" fill="#5f5fdc"/>
<circle cx="455.53" cy="227.6" r="1.65" fill="#5f5fdc"/>
<circle cx="462.56" cy="230.8" r="1.65" fill="#5f5fdc"/>
<circle cx="469.59" cy="236.3" r="1.65" fill="#5f5fdc"/>
<circle cx="476.63" cy="226.6" r="1.65" fill="#5f5fdc"/>
<circle cx="483.66" cy="222.2" r="1.65" fill="#5f5fdc"/>
<circle cx="490.69" cy="221.7" r="1.65" fill="#5f5fdc"/>
<circle cx="497.73" cy="224.3" r="1.65" fill="#5f5fdc"/>
<circle cx="504.76" cy="224.3" r="1.65" fill="#5f5fdc"/>
<circle cx="511.79" cy="225.6" r="1.65" fill="#5f5fdc"/>
<circle cx="518.83" cy="226.1" r="1.65" fill="#5f5fdc"/>
<circle cx="525.86" cy="227.6" r="1.65" fill="#5f5fdc"/>
<circle cx="532.89" cy="228.5" r="1.65" fill="#5f5fdc"/>
<circle cx="539.92" cy="228.5" r="1.65" fill="#5f5fdc"/>
<circle cx="553.99" cy="227.1" r="1.65" fill="#5f5fdc"/>
<circle cx="561.02" cy="228.5" r="1.65" fill="#5f5fdc"/>
<circle cx="568.06" cy="230" r="1.65" fill="#5f5fdc"/>
<circle cx="575.09" cy="230.5" r="1.65" fill="#5f5fdc"/>
<circle cx="582.12" cy="230.5" r="1.65" fill="#5f5fdc"/>
<circle cx="589.15" cy="230.5" r="1.65" fill="#5f5fdc"/>
<circle cx="596.19" cy="231.5" r="1.65" fill="#5f5fdc"/>
<circle cx="603.22" cy="228.8" r="1.65" fill="#5f5fdc"/>
<circle cx="610.25" cy="228.8" r="1.65" fill="#5f5fdc"/>
<circle cx="617.29" cy="228.5" r="1.65" fill="#5f5fdc"/>
<circle cx="624.32" cy="231.2" r="1.65" fill="#5f5fdc"/>
<circle cx="631.35" cy="230.2" r="1.65" fill="#5f5fdc"/>
<circle cx="638.39" cy="230.5" r="1.65" fill="#5f5fdc"/>
<circle cx="645.42" cy="231.2" r="1.65" fill="#5f5fdc"/>
<circle cx="652.45" cy="222.9" r="1.65" fill="#5f5fdc"/>
<circle cx="659.49" cy="221" r="1.65" fill="#5f5fdc"/>
<circle cx="666.52" cy="222.9" r="1.65" fill="#5f5fdc"/>
<circle cx="673.55" cy="222.4" r="1.65" fill="#5f5fdc"/>
<circle cx="680.58" cy="224.1" r="1.65" fill="#5f5fdc"/>
<circle cx="687.62" cy="224.9" r="1.65" fill="#5f5fdc"/>
<circle cx="694.65" cy="226.3" r="1.65" fill="#5f5fdc"/>
<circle cx="701.68" cy="227.3" r="1.65" fill="#5f5fdc"/>
<circle cx="708.72" cy="228.6" r="1.65" fill="#5f5fdc"/>
<circle cx="715.75" cy="228.6" r="1.65" fill="#5f5fdc"/>
<circle cx="722.78" cy="228.2" r="1.65" fill="#5f5fdc"/>
<circle cx="729.82" cy="228.2" r="1.65" fill="#5f5fdc"/>
<circle cx="736.85" cy="228.2" r="1.65" fill="#5f5fdc"/>
<circle cx="743.88" cy="228.3" r="1.65" fill="#5f5fdc"/>
<circle cx="750.91" cy="228.3" r="1.65" fill="#5f5fdc"/>
<circle cx="757.95" cy="228.2" r="1.65" fill="#5f5fdc"/>
<path d="M342.50,285.60 C345.25,285.15 352.95,283.35 359.00,282.90 C365.05,282.45 373.85,283.17 378.80,282.90 C383.75,282.63 385.42,281.68 388.70,281.30 C391.98,280.92 394.95,281.05 398.50,280.60 C402.05,280.15 406.95,278.77 410.00,278.60 C413.05,278.43 413.10,277.55 416.80,279.60 C420.50,281.65 427.07,286.45 432.20,290.90 C437.33,295.35 442.90,301.85 447.60,306.30 C452.30,310.75 457.00,315.20 460.40,317.60 C463.80,320.00 465.45,320.70 468.00,320.70 C470.55,320.70 473.13,319.58 475.70,317.60 C478.27,315.62 480.83,312.40 483.40,308.80 C485.97,305.20 488.53,299.42 491.10,296.00 C493.67,292.58 496.15,290.05 498.80,288.30 C501.45,286.55 502.87,286.50 507.00,285.50 C511.13,284.50 518.63,283.55 523.60,282.30 C528.57,281.05 531.78,279.80 536.80,278.00 C541.82,276.20 548.62,272.63 553.70,271.50 C558.78,270.37 562.75,270.92 567.30,271.20 C571.85,271.48 577.30,272.18 581.00,273.20 C584.70,274.22 586.38,274.33 589.50,277.30 C592.62,280.27 596.28,286.27 599.70,291.00 C603.12,295.73 606.28,302.28 610.00,305.70 C613.72,309.12 617.73,310.25 622.00,311.50 C626.27,312.75 631.92,313.20 635.60,313.20 C639.28,313.20 640.97,314.07 644.10,311.50 C647.23,308.93 650.70,301.90 654.40,297.80 C658.10,293.70 662.60,289.00 666.30,286.90 C670.00,284.80 673.18,285.55 676.60,285.20 C680.02,284.85 682.82,284.52 686.80,284.80 C690.78,285.08 696.80,286.03 700.50,286.90 C704.20,287.77 706.17,289.48 709.00,290.00 C711.83,290.52 713.80,290.23 717.50,290.00 C721.20,289.77 724.53,288.83 731.20,288.60 C737.87,288.37 753.12,288.60 757.50,288.60" stroke="#e8501e" stroke-width="2" fill="none"/>
<line x1="342.5" y1="340.5" x2="757.5" y2="340.5" stroke="#00a000" stroke-width="1" stroke-dasharray="2,2"/>
<path d="M342.50,356.40 C344.70,356.62 350.20,357.17 355.70,357.70 C361.20,358.23 369.45,358.62 375.50,359.60 C381.55,360.58 387.07,362.77 392.00,363.60 C396.93,364.43 400.17,364.17 405.10,364.60 C410.03,365.03 415.57,365.93 421.60,366.20 C427.63,366.47 436.37,365.82 441.30,366.20 C446.23,366.58 447.35,367.57 451.20,368.50 C455.05,369.43 459.18,370.80 464.40,371.80 C469.62,372.80 475.92,374.38 482.50,374.50 C489.08,374.62 497.05,373.05 503.90,372.50 C510.75,371.95 517.58,371.55 523.60,371.20 C529.62,370.85 533.85,370.52 540.00,370.40 C546.15,370.28 551.97,370.77 560.50,370.50 C569.03,370.23 583.23,368.85 591.20,368.80 C599.17,368.75 602.03,369.07 608.30,370.20 C614.57,371.33 621.40,373.73 628.80,375.60 C636.20,377.47 644.73,379.45 652.70,381.40 C660.67,383.35 669.22,385.30 676.60,387.30 C683.98,389.30 690.18,391.25 697.00,393.40 C703.82,395.55 711.23,397.63 717.50,400.20 C723.77,402.77 730.03,406.80 734.60,408.80 C739.17,410.80 741.08,410.95 744.90,412.20 C748.72,413.45 755.40,415.62 757.50,416.30" stroke="#000" stroke-width="2" fill="none"/>
<path d="M342.70,497.2 L349.33,497.2 M349.73,494.5 L356.37,494.5 M356.77,491.6 L363.40,491.6 M363.80,488.6 L370.43,488.6 M370.83,488.3 L377.47,488.3 M377.87,488.3 L384.50,488.3 M384.90,486.5 L391.53,486.5 M391.93,486.5 L398.56,486.5 M398.96,488.3 L405.60,488.3 M406.00,487.3 L412.63,487.3 M413.03,486.5 L419.66,486.5 M420.06,485.1 L426.70,485.1 M427.10,483.5 L433.73,483.5 M434.13,482.4 L440.76,482.4 M441.16,482.2 L447.80,482.2 M448.19,476.3 L454.83,476.3 M455.23,473.6 L461.86,473.6 M462.26,473.6 L468.89,473.6 M469.29,476.3 L475.93,476.3 M476.33,479.5 L482.96,479.5 M483.36,486.5 L489.99,486.5 M490.39,491.6 L497.03,491.6 M497.43,492.4 L504.06,492.4 M504.46,492.4 L511.09,492.4 M511.49,493.2 L518.12,493.2 M518.53,493.7 L525.16,493.7 M525.56,495.1 L532.19,495.1 M532.59,495.9 L539.22,495.9 M539.62,498.5 L546.26,498.5 M546.66,501.2 L553.29,501.2 M553.69,500.4 L560.32,500.4 M560.72,500.4 L567.36,500.4 M567.76,500.4 L574.39,500.4 M574.79,500.4 L581.42,500.4 M581.82,500.4 L588.45,500.4 M588.86,497.2 L595.49,497.2 M595.89,495.3 L602.52,495.3 M602.92,488.3 L609.55,488.3 M609.95,477.6 L616.59,477.6 M616.99,474.9 L623.62,474.9 M624.02,474.1 L630.65,474.1 M631.05,474.1 L637.69,474.1 M638.09,473.0 L644.72,473.0 M645.12,474.1 L651.75,474.1 M652.15,481.1 L658.78,481.1 M659.19,489.2 L665.82,489.2 M666.22,482.2 L672.85,482.2 M673.25,480.3 L679.88,480.3 M680.28,478.1 L686.92,478.1 M687.32,473.6 L693.95,473.6 M694.35,472.2 L700.98,472.2 M701.38,472.2 L708.02,472.2 M708.42,472.2 L715.05,472.2 M715.45,469.6 L722.08,469.6 M722.48,468.2 L729.12,468.2 M729.52,466.3 L736.15,466.3 M736.55,459.6 L743.18,459.6 M743.58,455.6 L750.21,455.6 M750.61,455.6 L757.25,455.6 " stroke="#ff0000" stroke-width="1.1" fill="none"/>
<path d="M342.50,504.40 C344.32,504.18 349.35,503.18 353.40,503.10 C357.45,503.02 362.33,504.03 366.80,503.90 C371.27,503.77 375.72,502.65 380.20,502.30 C384.68,501.95 389.23,501.67 393.70,501.80 C398.17,501.93 402.53,502.88 407.00,503.10 C411.47,503.32 416.47,503.42 420.50,503.10 C424.53,502.78 428.07,501.42 431.20,501.20 C434.33,500.98 436.17,501.35 439.30,501.80 C442.43,502.25 445.98,504.00 450.00,503.90 C454.02,503.80 460.05,501.47 463.40,501.20 C466.75,500.93 467.87,501.40 470.10,502.30 C472.33,503.20 474.78,505.80 476.80,506.60 C478.82,507.40 479.97,507.47 482.20,507.10 C484.43,506.73 487.07,504.93 490.20,504.40 C493.33,503.87 497.42,504.12 501.00,503.90 C504.58,503.68 508.13,503.10 511.70,503.10 C515.27,503.10 518.82,503.58 522.40,503.90 C525.98,504.22 529.17,504.33 533.20,505.00 C537.23,505.67 543.18,507.42 546.60,507.90 C550.02,508.38 551.45,508.03 553.70,507.90 C555.95,507.77 556.57,507.13 560.10,507.10 C563.63,507.07 570.20,507.33 574.90,507.70 C579.60,508.07 584.28,509.40 588.30,509.30 C592.32,509.20 595.42,507.82 599.00,507.10 C602.58,506.38 605.77,506.33 609.80,505.00 C613.83,503.67 619.63,499.95 623.20,499.10 C626.77,498.25 627.63,499.90 631.20,499.90 C634.77,499.90 641.25,497.98 644.60,499.10 C647.95,500.22 648.83,505.93 651.30,506.60 C653.77,507.27 655.58,504.45 659.40,503.10 C663.22,501.75 669.05,499.62 674.20,498.50 C679.35,497.38 684.93,496.88 690.30,496.40 C695.67,495.92 701.05,495.83 706.40,495.60 C711.75,495.37 717.48,495.23 722.40,495.00 C727.32,494.77 732.32,494.77 735.90,494.20 C739.48,493.63 740.30,492.22 743.90,491.60 C747.50,490.98 755.23,490.68 757.50,490.50" stroke="#0a1e96" stroke-width="2.2" fill="none"/>
<line x1="347.37" y1="541.50" x2="341.64" y2="535.36" stroke="#0c0ca0" stroke-width="1.6"/><polygon points="338.23,531.70 343.69,533.45 339.59,537.27" fill="#0c0ca0"/>
<line x1="355.75" y1="539.75" x2="348.33" y2="535.80" stroke="#0c0ca0" stroke-width="1.6"/><polygon points="343.92,533.45 349.65,533.33 347.02,538.27" fill="#0c0ca0"/>
<line x1="362.99" y1="539.33" x2="355.31" y2="535.91" stroke="#0c0ca0" stroke-width="1.6"/><polygon points="350.75,533.87 356.45,533.35 354.17,538.47" fill="#0c0ca0"/>
<line x1="369.39" y1="540.44" x2="362.51" y2="535.62" stroke="#0c0ca0" stroke-width="1.6"/><polygon points="358.41,532.76 364.11,533.33 360.90,537.92" fill="#0c0ca0"/>
<line x1="375.99" y1="541.00" x2="369.65" y2="535.48" stroke="#0c0ca0" stroke-width="1.6"/><polygon points="365.88,532.20 371.49,533.37 367.81,537.60" fill="#0c0ca0"/>
<line x1="382.09" y1="541.88" x2="376.92" y2="535.26" stroke="#0c0ca0" stroke-width="1.6"/><polygon points="373.84,531.32 379.12,533.54 374.71,536.98" fill="#0c0ca0"/>
<line x1="388.74" y1="542.15" x2="384.05" y2="535.19" stroke="#0c0ca0" stroke-width="1.6"/><polygon points="381.25,531.05 386.37,533.62 381.73,536.76" fill="#0c0ca0"/>
<line x1="395.38" y1="542.40" x2="391.18" y2="535.13" stroke="#0c0ca0" stroke-width="1.6"/><polygon points="388.68,530.80 393.61,533.73 388.76,536.53" fill="#0c0ca0"/>
<line x1="402.21" y1="542.52" x2="398.27" y2="535.10" stroke="#0c0ca0" stroke-width="1.6"/><polygon points="395.92,530.68 400.74,533.78 395.79,536.41" fill="#0c0ca0"/>
<line x1="409.14" y1="542.57" x2="405.33" y2="535.09" stroke="#0c0ca0" stroke-width="1.6"/><polygon points="403.06,530.63 407.82,533.81 402.83,536.36" fill="#0c0ca0"/>
<line x1="416.28" y1="542.52" x2="412.33" y2="535.10" stroke="#0c0ca0" stroke-width="1.6"/><polygon points="409.98,530.68 414.80,533.78 409.86,536.41" fill="#0c0ca0"/>
<line x1="422.99" y1="542.67" x2="419.44" y2="535.06" stroke="#0c0ca0" stroke-width="1.6"/><polygon points="417.33,530.53 421.98,533.88 416.91,536.24" fill="#0c0ca0"/>
<line x1="429.81" y1="542.77" x2="426.53" y2="535.04" stroke="#0c0ca0" stroke-width="1.6"/><polygon points="424.58,530.43 429.11,533.94 423.95,536.13" fill="#0c0ca0"/>
<line x1="436.30" y1="542.97" x2="433.70" y2="534.98" stroke="#0c0ca0" stroke-width="1.6"/><polygon points="432.16,530.23 436.37,534.12 431.04,535.85" fill="#0c0ca0"/>
<line x1="442.66" y1="543.15" x2="440.91" y2="534.94" stroke="#0c0ca0" stroke-width="1.6"/><polygon points="439.87,530.05 443.65,534.35 438.17,535.52" fill="#0c0ca0"/>
<line x1="449.46" y1="543.20" x2="448.00" y2="534.93" stroke="#0c0ca0" stroke-width="1.6"/><polygon points="447.13,530.00 450.76,534.44 445.24,535.41" fill="#0c0ca0"/>
<line x1="456.49" y1="543.20" x2="455.03" y2="534.93" stroke="#0c0ca0" stroke-width="1.6"/><polygon points="454.16,530.00 457.79,534.44 452.28,535.41" fill="#0c0ca0"/>
<line x1="463.98" y1="543.10" x2="461.95" y2="534.95" stroke="#0c0ca0" stroke-width="1.6"/><polygon points="460.74,530.10 464.67,534.27 459.23,535.63" fill="#0c0ca0"/>
<line x1="469.39" y1="543.30" x2="469.39" y2="534.90" stroke="#0c0ca0" stroke-width="1.6"/><polygon points="469.39,529.90 472.19,534.90 466.59,534.90" fill="#0c0ca0"/>
<line x1="476.89" y1="543.28" x2="476.31" y2="534.90" stroke="#0c0ca0" stroke-width="1.6"/><polygon points="475.96,529.92 479.10,534.71 473.52,535.10" fill="#0c0ca0"/>
<line x1="484.85" y1="543.15" x2="483.11" y2="534.94" stroke="#0c0ca0" stroke-width="1.6"/><polygon points="482.07,530.05 485.85,534.35 480.37,535.52" fill="#0c0ca0"/>
<line x1="493.53" y1="542.57" x2="489.72" y2="535.09" stroke="#0c0ca0" stroke-width="1.6"/><polygon points="487.45,530.63 492.22,533.81 487.23,536.36" fill="#0c0ca0"/>
<line x1="499.82" y1="542.90" x2="496.94" y2="535.00" stroke="#0c0ca0" stroke-width="1.6"/><polygon points="495.23,530.30 499.58,534.04 494.31,535.96" fill="#0c0ca0"/>
<line x1="504.56" y1="543.30" x2="504.56" y2="534.90" stroke="#0c0ca0" stroke-width="1.6"/><polygon points="504.56,529.90 507.36,534.90 501.76,534.90" fill="#0c0ca0"/>
<line x1="509.97" y1="543.10" x2="512.00" y2="534.95" stroke="#0c0ca0" stroke-width="1.6"/><polygon points="513.21,530.10 514.72,535.63 509.29,534.27" fill="#0c0ca0"/>
<line x1="514.88" y1="542.15" x2="519.58" y2="535.19" stroke="#0c0ca0" stroke-width="1.6"/><polygon points="522.37,531.05 521.90,536.76 517.25,533.62" fill="#0c0ca0"/>
<line x1="521.26" y1="541.66" x2="526.77" y2="535.32" stroke="#0c0ca0" stroke-width="1.6"/><polygon points="530.05,531.54 528.89,537.15 524.66,533.48" fill="#0c0ca0"/>
<line x1="526.40" y1="538.89" x2="534.29" y2="536.02" stroke="#0c0ca0" stroke-width="1.6"/><polygon points="538.99,534.31 535.25,538.65 533.33,533.39" fill="#0c0ca0"/>
<line x1="533.35" y1="534.53" x2="541.34" y2="537.13" stroke="#0c0ca0" stroke-width="1.6"/><polygon points="546.10,538.67 540.48,539.79 542.21,534.46" fill="#0c0ca0"/>
<line x1="542.02" y1="541.34" x2="547.96" y2="535.40" stroke="#0c0ca0" stroke-width="1.6"/><polygon points="551.49,531.86 549.94,537.38 545.98,533.42" fill="#0c0ca0"/>
<line x1="549.39" y1="541.66" x2="554.91" y2="535.32" stroke="#0c0ca0" stroke-width="1.6"/><polygon points="558.19,531.54 557.02,537.15 552.79,533.48" fill="#0c0ca0"/>
<line x1="555.77" y1="541.00" x2="562.11" y2="535.48" stroke="#0c0ca0" stroke-width="1.6"/><polygon points="565.88,532.20 563.94,537.60 560.27,533.37" fill="#0c0ca0"/>
<line x1="561.48" y1="538.67" x2="569.47" y2="536.07" stroke="#0c0ca0" stroke-width="1.6"/><polygon points="574.23,534.53 570.34,538.74 568.61,533.41" fill="#0c0ca0"/>
<line x1="568.52" y1="538.67" x2="576.51" y2="536.07" stroke="#0c0ca0" stroke-width="1.6"/><polygon points="581.26,534.53 577.37,538.74 575.64,533.41" fill="#0c0ca0"/>
<line x1="577.62" y1="541.73" x2="583.01" y2="535.30" stroke="#0c0ca0" stroke-width="1.6"/><polygon points="586.23,531.47 585.16,537.10 580.87,533.50" fill="#0c0ca0"/>
<line x1="585.71" y1="542.46" x2="589.78" y2="535.11" stroke="#0c0ca0" stroke-width="1.6"/><polygon points="592.20,530.74 592.23,536.47 587.33,533.76" fill="#0c0ca0"/>
<line x1="592.74" y1="542.46" x2="596.81" y2="535.11" stroke="#0c0ca0" stroke-width="1.6"/><polygon points="599.24,530.74 599.26,536.47 594.36,533.76" fill="#0c0ca0"/>
<line x1="600.40" y1="542.77" x2="603.69" y2="535.04" stroke="#0c0ca0" stroke-width="1.6"/><polygon points="605.64,530.43 606.26,536.13 601.11,533.94" fill="#0c0ca0"/>
<line x1="607.44" y1="542.77" x2="610.72" y2="535.04" stroke="#0c0ca0" stroke-width="1.6"/><polygon points="612.67,530.43 613.30,536.13 608.14,533.94" fill="#0c0ca0"/>
<line x1="612.60" y1="541.58" x2="618.22" y2="535.34" stroke="#0c0ca0" stroke-width="1.6"/><polygon points="621.57,531.62 620.31,537.21 616.14,533.46" fill="#0c0ca0"/>
<line x1="617.57" y1="537.99" x2="625.78" y2="536.25" stroke="#0c0ca0" stroke-width="1.6"/><polygon points="630.67,535.21 626.37,538.99 625.20,533.51" fill="#0c0ca0"/>
<line x1="624.75" y1="538.56" x2="632.78" y2="536.10" stroke="#0c0ca0" stroke-width="1.6"/><polygon points="637.56,534.64 633.60,538.78 631.96,533.43" fill="#0c0ca0"/>
<line x1="631.93" y1="539.00" x2="639.77" y2="535.99" stroke="#0c0ca0" stroke-width="1.6"/><polygon points="644.44,534.20 640.78,538.60 638.77,533.38" fill="#0c0ca0"/>
<line x1="639.30" y1="539.75" x2="646.72" y2="535.80" stroke="#0c0ca0" stroke-width="1.6"/><polygon points="651.13,533.45 648.03,538.27 645.41,533.33" fill="#0c0ca0"/>
<line x1="647.51" y1="541.34" x2="653.45" y2="535.40" stroke="#0c0ca0" stroke-width="1.6"/><polygon points="656.99,531.86 655.43,537.38 651.47,533.42" fill="#0c0ca0"/>
<line x1="656.24" y1="542.57" x2="660.06" y2="535.09" stroke="#0c0ca0" stroke-width="1.6"/><polygon points="662.33,530.63 662.55,536.36 657.56,533.81" fill="#0c0ca0"/>
<line x1="665.15" y1="543.20" x2="666.61" y2="534.93" stroke="#0c0ca0" stroke-width="1.6"/><polygon points="667.48,530.00 669.37,535.41 663.86,534.44" fill="#0c0ca0"/>
<line x1="672.77" y1="543.27" x2="673.50" y2="534.91" stroke="#0c0ca0" stroke-width="1.6"/><polygon points="673.93,529.93 676.29,535.15 670.71,534.66" fill="#0c0ca0"/>
<line x1="678.54" y1="543.04" x2="680.85" y2="534.97" stroke="#0c0ca0" stroke-width="1.6"/><polygon points="682.23,530.16 683.54,535.74 678.16,534.19" fill="#0c0ca0"/>
<line x1="685.68" y1="543.07" x2="687.86" y2="534.96" stroke="#0c0ca0" stroke-width="1.6"/><polygon points="689.15,530.13 690.56,535.68 685.15,534.23" fill="#0c0ca0"/>
<line x1="692.38" y1="542.97" x2="694.98" y2="534.98" stroke="#0c0ca0" stroke-width="1.6"/><polygon points="696.52,530.23 697.64,535.85 692.31,534.12" fill="#0c0ca0"/>
<line x1="698.97" y1="542.81" x2="702.12" y2="535.02" stroke="#0c0ca0" stroke-width="1.6"/><polygon points="703.99,530.39 704.72,536.07 699.52,533.97" fill="#0c0ca0"/>
<line x1="705.58" y1="542.62" x2="709.26" y2="535.07" stroke="#0c0ca0" stroke-width="1.6"/><polygon points="711.45,530.58 711.78,536.30 706.74,533.84" fill="#0c0ca0"/>
<line x1="712.82" y1="542.72" x2="716.24" y2="535.05" stroke="#0c0ca0" stroke-width="1.6"/><polygon points="718.27,530.48 718.80,536.19 713.68,533.91" fill="#0c0ca0"/>
<line x1="720.62" y1="543.01" x2="723.08" y2="534.97" stroke="#0c0ca0" stroke-width="1.6"/><polygon points="724.54,530.19 725.76,535.79 720.40,534.16" fill="#0c0ca0"/>
<line x1="727.88" y1="543.07" x2="730.05" y2="534.96" stroke="#0c0ca0" stroke-width="1.6"/><polygon points="731.35,530.13 732.76,535.68 727.35,534.23" fill="#0c0ca0"/>
<line x1="734.91" y1="543.07" x2="737.09" y2="534.96" stroke="#0c0ca0" stroke-width="1.6"/><polygon points="738.38,530.13 739.79,535.68 734.38,534.23" fill="#0c0ca0"/>
<line x1="742.98" y1="543.26" x2="743.86" y2="534.91" stroke="#0c0ca0" stroke-width="1.6"/><polygon points="744.38,529.94 746.64,535.20 741.07,534.62" fill="#0c0ca0"/>
<line x1="749.78" y1="543.23" x2="750.95" y2="534.92" stroke="#0c0ca0" stroke-width="1.6"/><polygon points="751.65,529.97 753.72,535.31 748.18,534.53" fill="#0c0ca0"/>
<line x1="757.51" y1="543.30" x2="757.81" y2="534.90" stroke="#0c0ca0" stroke-width="1.6"/><polygon points="757.98,529.90 760.60,535.00 755.01,534.80" fill="#0c0ca0"/>
<path d="M342.50,573.90 C348.55,574.28 368.38,575.37 378.80,576.20 C389.22,577.03 399.52,578.23 405.00,578.90 C410.48,579.57 409.48,580.37 411.70,580.20 C413.92,580.03 415.55,578.23 418.30,577.90 C421.05,577.57 423.82,578.37 428.20,578.20 C432.58,578.03 438.57,577.50 444.60,576.90 C450.63,576.30 458.90,575.05 464.40,574.60 C469.90,574.15 473.22,574.10 477.60,574.20 C481.98,574.30 485.22,574.75 490.70,575.20 C496.18,575.65 505.00,576.28 510.50,576.90 C516.00,577.52 519.32,577.37 523.70,578.90 C528.08,580.43 531.80,584.05 536.80,586.10 C541.80,588.15 548.62,590.23 553.70,591.20 C558.78,592.17 562.75,591.78 567.30,591.90 C571.85,592.02 577.02,592.58 581.00,591.90 C584.98,591.22 587.22,589.50 591.20,587.80 C595.18,586.10 600.35,583.52 604.90,581.70 C609.45,579.88 613.95,577.98 618.50,576.90 C623.05,575.82 627.93,575.38 632.20,575.20 C636.47,575.02 640.97,575.00 644.10,575.80 C647.23,576.60 648.72,580.00 651.00,580.00 C653.28,580.00 654.68,576.20 657.80,575.80 C660.92,575.40 665.43,577.02 669.70,577.60 C673.97,578.18 678.85,578.62 683.40,579.30 C687.95,579.98 693.02,580.57 697.00,581.70 C700.98,582.83 704.17,585.65 707.30,586.10 C710.43,586.55 712.95,584.28 715.80,584.40 C718.65,584.52 720.70,586.63 724.40,586.80 C728.10,586.97 732.48,585.40 738.00,585.40 C743.52,585.40 754.25,586.57 757.50,586.80" stroke="#ff9900" stroke-width="2" fill="none"/>
<g clip-path="url(#cC)">
<circle cx="343.00" cy="596" r="2.6" fill="#aa1e1e"/>
<circle cx="420.36" cy="595.5" r="2.6" fill="#aa1e1e"/>
<circle cx="441.46" cy="595.5" r="2.6" fill="#aa1e1e"/>
<circle cx="448.50" cy="594.8" r="2.6" fill="#aa1e1e"/>
<circle cx="455.53" cy="594.8" r="2.6" fill="#aa1e1e"/>
<circle cx="462.56" cy="591.7" r="2.6" fill="#aa1e1e"/>
<circle cx="469.59" cy="591.7" r="2.6" fill="#aa1e1e"/>
<circle cx="476.63" cy="591.7" r="2.6" fill="#aa1e1e"/>
<circle cx="483.66" cy="594" r="2.6" fill="#aa1e1e"/>
<circle cx="490.69" cy="596.2" r="2.6" fill="#aa1e1e"/>
<circle cx="497.73" cy="595.6" r="2.6" fill="#aa1e1e"/>
<circle cx="504.76" cy="595.6" r="2.6" fill="#aa1e1e"/>
<circle cx="511.79" cy="595.6" r="2.6" fill="#aa1e1e"/>
<circle cx="518.83" cy="595.6" r="2.6" fill="#aa1e1e"/>
<circle cx="525.86" cy="571.1" r="2.6" fill="#aa1e1e"/>
<circle cx="532.89" cy="594.3" r="2.6" fill="#aa1e1e"/>
<circle cx="539.92" cy="571.1" r="2.6" fill="#aa1e1e"/>
<circle cx="546.96" cy="569.6" r="2.6" fill="#aa1e1e"/>
<circle cx="553.99" cy="569.6" r="2.6" fill="#aa1e1e"/>
<circle cx="561.02" cy="568.7" r="2.6" fill="#aa1e1e"/>
<circle cx="568.06" cy="569.6" r="2.6" fill="#aa1e1e"/>
<circle cx="575.09" cy="569.6" r="2.6" fill="#aa1e1e"/>
<circle cx="582.12" cy="568.4" r="2.6" fill="#aa1e1e"/>
<circle cx="589.15" cy="568.4" r="2.6" fill="#aa1e1e"/>
<circle cx="596.19" cy="568.4" r="2.6" fill="#aa1e1e"/>
<circle cx="603.22" cy="568.4" r="2.6" fill="#aa1e1e"/>
<circle cx="610.25" cy="569.6" r="2.6" fill="#aa1e1e"/>
<circle cx="617.29" cy="571.1" r="2.6" fill="#aa1e1e"/>
<circle cx="624.32" cy="572.4" r="2.6" fill="#aa1e1e"/>
<circle cx="631.35" cy="572.7" r="2.6" fill="#aa1e1e"/>
<circle cx="638.39" cy="574.2" r="2.6" fill="#aa1e1e"/>
<circle cx="645.42" cy="576" r="2.6" fill="#aa1e1e"/>
<circle cx="652.45" cy="570" r="2.6" fill="#aa1e1e"/>
<circle cx="659.49" cy="571.1" r="2.6" fill="#aa1e1e"/>
<circle cx="666.52" cy="569.6" r="2.6" fill="#aa1e1e"/>
<circle cx="673.55" cy="569.6" r="2.6" fill="#aa1e1e"/>
<circle cx="680.58" cy="568.4" r="2.6" fill="#aa1e1e"/>
<circle cx="687.62" cy="568.4" r="2.6" fill="#aa1e1e"/>
<circle cx="694.65" cy="567.3" r="2.6" fill="#aa1e1e"/>
<circle cx="701.68" cy="567.3" r="2.6" fill="#aa1e1e"/>
<circle cx="708.72" cy="567.3" r="2.6" fill="#aa1e1e"/>
<circle cx="715.75" cy="565.6" r="2.6" fill="#aa1e1e"/>
<circle cx="722.78" cy="565.6" r="2.6" fill="#aa1e1e"/>
<circle cx="729.82" cy="565.6" r="2.6" fill="#aa1e1e"/>
<circle cx="736.85" cy="565.6" r="2.6" fill="#aa1e1e"/>
<circle cx="743.88" cy="565.6" r="2.6" fill="#aa1e1e"/>
<circle cx="750.91" cy="565.6" r="2.6" fill="#aa1e1e"/>
<circle cx="757.95" cy="565.6" r="2.6" fill="#aa1e1e"/>
<circle cx="469.59" cy="600.2" r="2.6" fill="#c8c8c8"/>
<circle cx="483.66" cy="601.6" r="2.6" fill="#c8c8c8"/>
<circle cx="511.79" cy="599.8" r="2.6" fill="#c8c8c8"/>
<circle cx="553.99" cy="574.2" r="2.6" fill="#c8c8c8"/>
<circle cx="561.02" cy="575.7" r="2.6" fill="#c8c8c8"/>
<circle cx="568.06" cy="577.3" r="2.6" fill="#c8c8c8"/>
<circle cx="575.09" cy="581.2" r="2.6" fill="#c8c8c8"/>
<circle cx="582.12" cy="583.4" r="2.6" fill="#c8c8c8"/>
<circle cx="589.15" cy="583.4" r="2.6" fill="#c8c8c8"/>
<circle cx="603.22" cy="579.7" r="2.6" fill="#c8c8c8"/>
<circle cx="603.22" cy="587.9" r="2.6" fill="#c8c8c8"/>
<circle cx="617.29" cy="590.7" r="2.6" fill="#c8c8c8"/>
<circle cx="624.32" cy="591.6" r="2.6" fill="#c8c8c8"/>
<circle cx="638.39" cy="593.8" r="2.6" fill="#c8c8c8"/>
<circle cx="701.68" cy="598" r="2.6" fill="#c8c8c8"/>
<circle cx="708.72" cy="604.4" r="2.6" fill="#c8c8c8"/>
<circle cx="715.75" cy="604.4" r="2.6" fill="#c8c8c8"/>
<circle cx="722.78" cy="604.4" r="2.6" fill="#c8c8c8"/>
<circle cx="350.03" cy="595.5" r="2.6" fill="#8a8a8a"/>
<circle cx="357.07" cy="596" r="2.6" fill="#8a8a8a"/>
<circle cx="364.10" cy="595.5" r="2.6" fill="#8a8a8a"/>
<circle cx="371.13" cy="594.8" r="2.6" fill="#8a8a8a"/>
<circle cx="392.23" cy="595.5" r="2.6" fill="#8a8a8a"/>
<circle cx="406.30" cy="594.8" r="2.6" fill="#8a8a8a"/>
<circle cx="413.33" cy="595.5" r="2.6" fill="#8a8a8a"/>
<circle cx="476.63" cy="600.2" r="2.6" fill="#8a8a8a"/>
<circle cx="518.83" cy="596.5" r="2.6" fill="#8a8a8a"/>
<circle cx="525.86" cy="595.6" r="2.6" fill="#8a8a8a"/>
<circle cx="532.89" cy="595" r="2.6" fill="#8a8a8a"/>
<circle cx="539.92" cy="597" r="2.6" fill="#8a8a8a"/>
<circle cx="546.96" cy="597.4" r="2.6" fill="#8a8a8a"/>
<circle cx="589.15" cy="577" r="2.6" fill="#8a8a8a"/>
<circle cx="596.19" cy="578.8" r="2.6" fill="#8a8a8a"/>
<circle cx="617.29" cy="577.9" r="2.6" fill="#8a8a8a"/>
<circle cx="624.32" cy="578.8" r="2.6" fill="#8a8a8a"/>
<circle cx="645.42" cy="604.4" r="2.6" fill="#8a8a8a"/>
<circle cx="694.65" cy="592.9" r="2.6" fill="#8a8a8a"/>
<circle cx="729.82" cy="599.8" r="2.6" fill="#8a8a8a"/>
<circle cx="736.85" cy="604.4" r="2.6" fill="#8a8a8a"/>
<circle cx="750.91" cy="602.5" r="2.6" fill="#8a8a8a"/>
<circle cx="378.17" cy="595.5" r="2.6" fill="#555"/>
<circle cx="385.20" cy="595.5" r="2.6" fill="#555"/>
<circle cx="399.26" cy="595.5" r="2.6" fill="#555"/>
<circle cx="469.59" cy="596" r="2.6" fill="#555"/>
<circle cx="652.45" cy="599.8" r="2.6" fill="#555"/>
<circle cx="701.68" cy="593.8" r="2.6" fill="#555"/>
<circle cx="715.75" cy="596.2" r="2.6" fill="#555"/>
<circle cx="722.78" cy="597" r="2.6" fill="#555"/>
<circle cx="645.42" cy="599.8" r="2.6" fill="#111"/>
<circle cx="708.72" cy="597" r="2.6" fill="#111"/>
<circle cx="729.82" cy="596.2" r="2.6" fill="#111"/>
<circle cx="736.85" cy="599.8" r="2.6" fill="#111"/>
<circle cx="743.88" cy="603.5" r="2.6" fill="#111"/>
<circle cx="750.91" cy="598" r="2.6" fill="#111"/>
<circle cx="757.95" cy="598" r="2.6" fill="#111"/>
<circle cx="343.00" cy="597.7" r="2.6" fill="#fff"/>
<circle cx="350.03" cy="598.5" r="2.6" fill="#fff"/>
<circle cx="357.07" cy="598.5" r="2.6" fill="#fff"/>
<circle cx="364.10" cy="601.4" r="2.6" fill="#fff"/>
<circle cx="371.13" cy="601.4" r="2.6" fill="#fff"/>
<circle cx="378.17" cy="604.2" r="2.6" fill="#fff"/>
<circle cx="385.20" cy="604.2" r="2.6" fill="#fff"/>
<circle cx="392.23" cy="604.2" r="2.6" fill="#fff"/>
<circle cx="399.26" cy="604.2" r="2.6" fill="#fff"/>
<circle cx="406.30" cy="604.2" r="2.6" fill="#fff"/>
<circle cx="413.33" cy="604.2" r="2.6" fill="#fff"/>
<circle cx="420.36" cy="602" r="2.6" fill="#fff"/>
<circle cx="427.40" cy="631" r="2.6" fill="#fff"/>
<circle cx="434.43" cy="596" r="2.6" fill="#fff"/>
<circle cx="441.46" cy="596.5" r="2.6" fill="#fff"/>
<circle cx="448.50" cy="602" r="2.6" fill="#fff"/>
<circle cx="455.53" cy="607" r="2.6" fill="#fff"/>
<circle cx="462.56" cy="605.7" r="2.6" fill="#fff"/>
<circle cx="469.59" cy="611.3" r="2.6" fill="#fff"/>
<circle cx="476.63" cy="608.8" r="2.6" fill="#fff"/>
<circle cx="483.66" cy="608" r="2.6" fill="#fff"/>
<circle cx="490.69" cy="605.3" r="2.6" fill="#fff"/>
<circle cx="497.73" cy="605.8" r="2.6" fill="#fff"/>
<circle cx="504.76" cy="607.1" r="2.6" fill="#fff"/>
<circle cx="511.79" cy="607.1" r="2.6" fill="#fff"/>
<circle cx="518.83" cy="604" r="2.6" fill="#fff"/>
<circle cx="525.86" cy="605.3" r="2.6" fill="#fff"/>
<circle cx="532.89" cy="606.2" r="2.6" fill="#fff"/>
<circle cx="539.92" cy="606.8" r="2.6" fill="#fff"/>
<circle cx="546.96" cy="632.7" r="2.6" fill="#fff"/>
<circle cx="553.99" cy="632.7" r="2.6" fill="#fff"/>
<circle cx="561.02" cy="632.7" r="2.6" fill="#fff"/>
<circle cx="568.06" cy="632.7" r="2.6" fill="#fff"/>
<circle cx="575.09" cy="609.5" r="2.6" fill="#fff"/>
<circle cx="582.12" cy="589.4" r="2.6" fill="#fff"/>
<circle cx="589.15" cy="589.4" r="2.6" fill="#fff"/>
<circle cx="596.19" cy="588.8" r="2.6" fill="#fff"/>
<circle cx="603.22" cy="589.4" r="2.6" fill="#fff"/>
<circle cx="610.25" cy="590.3" r="2.6" fill="#fff"/>
<circle cx="631.35" cy="594.9" r="2.6" fill="#fff"/>
<circle cx="645.42" cy="611.7" r="2.6" fill="#fff"/>
<circle cx="652.45" cy="608" r="2.6" fill="#fff"/>
<circle cx="659.49" cy="608" r="2.6" fill="#fff"/>
<circle cx="666.52" cy="606.8" r="2.6" fill="#fff"/>
<circle cx="673.55" cy="607.7" r="2.6" fill="#fff"/>
<circle cx="680.58" cy="606.8" r="2.6" fill="#fff"/>
<circle cx="687.62" cy="606.8" r="2.6" fill="#fff"/>
<circle cx="694.65" cy="605.3" r="2.6" fill="#fff"/>
<circle cx="701.68" cy="607.1" r="2.6" fill="#fff"/>
<circle cx="708.72" cy="607.1" r="2.6" fill="#fff"/>
<circle cx="715.75" cy="609" r="2.6" fill="#fff"/>
<circle cx="722.78" cy="608" r="2.6" fill="#fff"/>
<circle cx="729.82" cy="607.1" r="2.6" fill="#fff"/>
<circle cx="736.85" cy="607.1" r="2.6" fill="#fff"/>
<circle cx="743.88" cy="607.1" r="2.6" fill="#fff"/>
<circle cx="750.91" cy="607.1" r="2.6" fill="#fff"/>
<circle cx="757.95" cy="604.4" r="2.6" fill="#fff"/>
</g>
<clipPath id="cC"><rect x="342.5" y="557.5" width="415.0" height="79.0"/></clipPath>
<rect x="342.5" y="177.5" width="415.0" height="78.0" fill="none" stroke="#000" stroke-width="1"/>
<rect x="342.5" y="263.5" width="415.0" height="78.0" fill="none" stroke="#000" stroke-width="1"/>
<rect x="342.5" y="350.5" width="415.0" height="78.0" fill="none" stroke="#000" stroke-width="1"/>
<rect x="342.5" y="437.5" width="415.0" height="78.0" fill="none" stroke="#000" stroke-width="1"/>
<rect x="342.5" y="521.5" width="415.0" height="30.0" fill="none" stroke="#000" stroke-width="1"/>
<rect x="342.5" y="557.5" width="415.0" height="79.0" fill="none" stroke="#000" stroke-width="1"/>
<path d="M342.5,660 L342.5,645.5 L757.5,645.5 L757.5,660" fill="none" stroke="#000" stroke-width="1"/>
<line x1="342.5" y1="551.5" x2="757.5" y2="551.5" stroke="#666" stroke-width="2"/>
<path d="M356.5,177.5 L356.5,180.5 M377.5,177.5 L377.5,180.5 M398.5,177.5 L398.5,180.5 M419.5,177.5 L419.5,180.5 M440.5,177.5 L440.5,180.5 M462.5,177.5 L462.5,180.5 M483.5,177.5 L483.5,180.5 M504.5,177.5 L504.5,180.5 M525.5,177.5 L525.5,180.5 M546.5,177.5 L546.5,180.5 M567.5,177.5 L567.5,180.5 M588.5,177.5 L588.5,180.5 M609.5,177.5 L609.5,180.5 M630.5,177.5 L630.5,180.5 M651.5,177.5 L651.5,180.5 M673.5,177.5 L673.5,180.5 M694.5,177.5 L694.5,180.5 M715.5,177.5 L715.5,180.5 M736.5,177.5 L736.5,180.5 " stroke="#000" stroke-width="1"/>
<text x="338.00" y="186.50" font-size="10.9" fill="#000" text-anchor="end">15</text>
<text x="767.40" y="186.50" font-size="10.9" fill="#000" text-anchor="middle">15</text>
<text x="338.00" y="206.00" font-size="10.9" fill="#000" text-anchor="end">10</text>
<text x="767.40" y="206.00" font-size="10.9" fill="#000" text-anchor="middle">10</text>
<text x="338.00" y="225.80" font-size="10.9" fill="#000" text-anchor="end">5</text>
<text x="767.40" y="225.80" font-size="10.9" fill="#000" text-anchor="middle">5</text>
<text x="338.00" y="244.80" font-size="10.9" fill="#000" text-anchor="end">0</text>
<text x="767.40" y="244.80" font-size="10.9" fill="#000" text-anchor="middle">0</text>
<text x="338.00" y="270.60" font-size="10.9" fill="#000" text-anchor="end">5</text>
<text x="338.00" y="285.60" font-size="10.9" fill="#000" text-anchor="end">4</text>
<text x="338.00" y="300.70" font-size="10.9" fill="#000" text-anchor="end">3</text>
<text x="338.00" y="315.70" font-size="10.9" fill="#000" text-anchor="end">2</text>
<text x="338.00" y="330.70" font-size="10.9" fill="#000" text-anchor="end">1</text>
<text x="338.00" y="345.70" font-size="10.9" fill="#000" text-anchor="end">0</text>
<text x="770.40" y="270.60" font-size="10.9" fill="#e8501e" text-anchor="middle">100</text>
<text x="770.40" y="285.60" font-size="10.9" fill="#e8501e" text-anchor="middle">85</text>
<text x="770.40" y="300.70" font-size="10.9" fill="#e8501e" text-anchor="middle">70</text>
<text x="770.40" y="315.70" font-size="10.9" fill="#e8501e" text-anchor="middle">55</text>
<text x="770.40" y="330.70" font-size="10.9" fill="#e8501e" text-anchor="middle">40</text>
<text x="770.40" y="345.70" font-size="10.9" fill="#e8501e" text-anchor="middle">25</text>
<text x="338.00" y="366.70" font-size="10.9" fill="#000" text-anchor="end">1020</text>
<text x="338.00" y="387.70" font-size="10.9" fill="#000" text-anchor="end">1015</text>
<text x="338.00" y="408.50" font-size="10.9" fill="#000" text-anchor="end">1010</text>
<text x="338.00" y="429.30" font-size="10.9" fill="#000" text-anchor="end">1005</text>
<text x="770.40" y="366.70" font-size="10.9" fill="#000" text-anchor="middle">765</text>
<text x="770.40" y="387.70" font-size="10.9" fill="#000" text-anchor="middle">761</text>
<text x="770.40" y="408.50" font-size="10.9" fill="#000" text-anchor="middle">758</text>
<text x="770.40" y="429.30" font-size="10.9" fill="#000" text-anchor="middle">754</text>
<text x="338.00" y="442.20" font-size="10.9" fill="#000" text-anchor="end">15</text>
<text x="338.00" y="467.80" font-size="10.9" fill="#000" text-anchor="end">10</text>
<text x="338.00" y="493.20" font-size="10.9" fill="#000" text-anchor="end">5</text>
<text x="338.00" y="518.50" font-size="10.9" fill="#000" text-anchor="end">0</text>
<text x="767.40" y="442.50" font-size="10.9" fill="#000" text-anchor="middle">54</text>
<text x="767.40" y="467.70" font-size="10.9" fill="#000" text-anchor="middle">36</text>
<text x="767.40" y="493.30" font-size="10.9" fill="#000" text-anchor="middle">18</text>
<text x="767.40" y="518.20" font-size="10.9" fill="#000" text-anchor="middle">0</text>
<text x="338.00" y="561.70" font-size="10.9" fill="#000" text-anchor="end">15.0</text>
<text x="338.00" y="581.70" font-size="10.9" fill="#000" text-anchor="end">7.0</text>
<text x="338.00" y="600.70" font-size="10.9" fill="#000" text-anchor="end">2.0</text>
<text x="338.00" y="620.80" font-size="10.9" fill="#000" text-anchor="end">0.5</text>
<text x="338.00" y="640.00" font-size="10.9" fill="#000" text-anchor="end">0.0</text>
<text x="338.00" y="650.00" font-size="10.9" fill="#000" text-anchor="end">8</text>
<text x="761.60" y="561.70" font-size="10.9" fill="#ff8c00">100</text>
<text x="761.60" y="581.70" font-size="10.9" fill="#ff8c00">20</text>
<text x="761.60" y="600.70" font-size="10.9" fill="#ff8c00">5</text>
<text x="761.60" y="620.80" font-size="10.9" fill="#ff8c00">1</text>
<text x="761.60" y="640.00" font-size="10.9" fill="#ff8c00">0</text>
<text x="761.60" y="650.00" font-size="10.9" fill="#ff8c00">1</text>
<text x="330.00" y="175.00" font-size="12.2" fill="#000" text-anchor="end">CET</text>
<text x="768.70" y="175.00" font-size="12.2" fill="#000">CET</text>
<text x="356.57" y="175.00" font-size="12.2" fill="#000" text-anchor="middle">22</text>
<text x="398.76" y="175.00" font-size="12.2" fill="#000" text-anchor="middle">04</text>
<text x="440.96" y="175.00" font-size="12.2" fill="#000" text-anchor="middle">10</text>
<text x="483.16" y="175.00" font-size="12.2" fill="#000" text-anchor="middle">16</text>
<text x="525.36" y="175.00" font-size="12.2" fill="#000" text-anchor="middle">22</text>
<text x="567.56" y="175.00" font-size="12.2" fill="#000" text-anchor="middle">04</text>
<text x="609.75" y="175.00" font-size="12.2" fill="#000" text-anchor="middle">10</text>
<text x="651.95" y="175.00" font-size="12.2" fill="#000" text-anchor="middle">16</text>
<text x="694.15" y="175.00" font-size="12.2" fill="#000" text-anchor="middle">22</text>
<text x="736.35" y="175.00" font-size="12.2" fill="#000" text-anchor="middle">04</text>
<text x="462.56" y="162.00" font-size="12.2" fill="#000" text-anchor="middle" textLength="59.8" lengthAdjust="spacingAndGlyphs">pon, 23.03</text>
<text x="631.35" y="162.00" font-size="12.2" fill="#000" text-anchor="middle" textLength="59.8" lengthAdjust="spacingAndGlyphs">wto, 24.03</text>
<text x="282.00" y="133.00" font-size="12.3" fill="#00008b">wschód słońca: 05:27 CET</text>
<text x="284.00" y="146.00" font-size="12.3" fill="#00008b">zachód słońca: 17:51 CET</text>
<text x="550.50" y="133.00" font-size="12.3" fill="#00008b" text-anchor="middle">21°40'27"E, 54°10'38"N</text>
<text x="550.00" y="146.00" font-size="12.3" fill="#00008b" text-anchor="middle">(x=260,  y=350)</text>
<text x="738.50" y="133.00" font-size="12.3" fill="#00008b" text-anchor="middle">wysokość (min, środek, max)</text>
<text x="738.00" y="146.00" font-size="12.3" fill="#00008b" text-anchor="middle">74 - 128 - 153 m</text>
<text x="292.80" y="216.60" font-size="12.2" fill="#0a0a8c" text-anchor="middle" transform="rotate(-90 292.80 216.60)">temperatura</text>
<text x="305.60" y="216.60" font-size="12.2" fill="#0a0a8c" text-anchor="middle" transform="rotate(-90 305.60 216.60)">(°C)</text>
<text x="802.60" y="216.60" font-size="12.2" fill="#0a0a8c" text-anchor="middle" transform="rotate(-90 802.60 216.60)">(°C)</text>
<text x="816.00" y="216.60" font-size="12.2" fill="#0a0a8c" text-anchor="middle" transform="rotate(-90 816.00 216.60)">temperatura</text>
<text x="292.80" y="304.70" font-size="12.2" fill="#0a0a8c" text-anchor="middle" transform="rotate(-90 292.80 304.70)">opad</text>
<text x="305.60" y="304.50" font-size="12.2" fill="#0a0a8c" text-anchor="middle" transform="rotate(-90 305.60 304.50)">(mm/h, kg/m²/h)</text>
<text x="802.60" y="305.80" font-size="12.2" fill="#0a0a8c" text-anchor="middle" transform="rotate(-90 802.60 305.80)">(%)</text>
<text x="816.00" y="306.40" font-size="12.2" fill="#0a0a8c" text-anchor="middle" transform="rotate(-90 816.00 306.40)">wilgotność wzgl.</text>
<text x="292.80" y="392.30" font-size="12.2" fill="#0a0a8c" text-anchor="middle" transform="rotate(-90 292.80 392.30)">ciśnienie</text>
<text x="305.60" y="393.20" font-size="12.2" fill="#0a0a8c" text-anchor="middle" transform="rotate(-90 305.60 393.20)">(hPa)</text>
<text x="802.60" y="393.00" font-size="12.2" fill="#0a0a8c" text-anchor="middle" transform="rotate(-90 802.60 393.00)">(mm Hg)</text>
<text x="816.00" y="393.00" font-size="12.2" fill="#0a0a8c" text-anchor="middle" transform="rotate(-90 816.00 393.00)">ciśnienie</text>
<text x="292.80" y="481.00" font-size="12.2" fill="#0a0a8c" text-anchor="middle" transform="rotate(-90 292.80 481.00)">wiatr</text>
<text x="305.60" y="481.20" font-size="12.2" fill="#0a0a8c" text-anchor="middle" transform="rotate(-90 305.60 481.20)">(m/s)</text>
<text x="802.60" y="481.40" font-size="12.2" fill="#0a0a8c" text-anchor="middle" transform="rotate(-90 802.60 481.40)">(km/h)</text>
<text x="816.00" y="482.20" font-size="12.2" fill="#0a0a8c" text-anchor="middle" transform="rotate(-90 816.00 482.20)">wiatr</text>
<text x="292.80" y="594.00" font-size="12.2" fill="#0a0a8c" text-anchor="middle" transform="rotate(-90 292.80 594.00)">pion. rozciągł. chm.</text>
<text x="305.60" y="594.00" font-size="12.2" fill="#0a0a8c" text-anchor="middle" transform="rotate(-90 305.60 594.00)">(km)</text>
<text x="802.60" y="593.00" font-size="12.2" fill="#0a0a8c" text-anchor="middle" transform="rotate(-90 802.60 593.00)">(km)</text>
<text x="816.00" y="594.60" font-size="12.2" fill="#0a0a8c" text-anchor="middle" transform="rotate(-90 816.00 594.60)">widzialność</text>
<text x="292.80" y="693.00" font-size="12.2" fill="#0a0a8c" text-anchor="middle" transform="rotate(-90 292.80 693.00)">zachmurzenie</text>
<text x="283.80" y="539.60" font-size="12.2" fill="#0a0a8c">W</text>
<text x="294.90" y="530.90" font-size="11.2" fill="#0a0a8c">N</text>
<text x="301.50" y="539.60" font-size="11.2" fill="#0a0a8c">E</text>
<text x="294.80" y="547.90" font-size="11.2" fill="#0a0a8c">S</text>
<text x="793.00" y="539.70" font-size="12.2" fill="#0a0a8c">W</text>
<text x="804.10" y="531.00" font-size="11.2" fill="#0a0a8c">N</text>
<text x="810.70" y="539.70" font-size="11.2" fill="#0a0a8c">E</text>
<text x="804.00" y="548.00" font-size="11.2" fill="#0a0a8c">S</text>
<rect x="170.2" y="30.4" width="61.80000000000001" height="598.3" fill="#eef4fe"/>
<clipPath id="lT"><rect x="135.5" y="57.5" width="110.0" height="76.0"/></clipPath>
<clipPath id="lO"><rect x="135.5" y="143.5" width="110.0" height="77.0"/></clipPath>
<clipPath id="lP"><rect x="135.5" y="229.5" width="110.0" height="77.0"/></clipPath>
<clipPath id="lW"><rect x="135.5" y="315.5" width="110.0" height="77.0"/></clipPath>
<clipPath id="lD"><rect x="135.5" y="398.5" width="110.0" height="32.0"/></clipPath>
<clipPath id="lC"><rect x="135.5" y="436.5" width="110.0" height="78.0"/></clipPath>
<clipPath id="lB"><rect x="135.5" y="523.5" width="110.0" height="77.0"/></clipPath>
<g clip-path="url(#lT)">
<rect x="135.5" y="111.6" width="110.0" height="22.400000000000006" fill="#87cefa"/>
<rect x="170.2" y="111.6" width="61.80000000000001" height="22.400000000000006" fill="#79b9e3"/>
<polygon points="135.50,89.20 136.50,89.29 137.50,89.41 138.50,89.54 139.50,89.66 140.50,89.79 141.50,89.91 142.50,90.04 143.50,90.30 144.50,90.71 145.50,91.11 146.50,91.51 147.50,91.92 148.50,92.32 149.50,92.72 150.50,93.19 151.50,93.71 152.50,94.22 153.50,94.74 154.50,95.22 155.50,95.69 156.50,96.17 157.50,96.65 158.50,97.13 159.50,97.60 160.50,98.08 161.50,98.56 162.50,99.03 163.50,99.47 164.50,99.88 165.50,100.29 166.50,100.69 167.50,101.10 168.50,101.51 169.50,101.92 170.50,102.31 171.50,102.69 172.50,103.07 173.50,103.44 174.50,103.71 175.50,103.82 176.50,103.92 177.50,104.02 178.50,104.12 179.50,104.23 180.50,104.33 181.50,104.43 182.50,104.54 183.50,104.64 184.50,104.74 185.50,104.85 186.50,104.94 187.50,105.04 188.50,105.13 189.50,105.22 190.50,105.32 191.50,105.41 192.50,105.51 193.50,105.60 194.50,105.67 195.50,105.71 196.50,105.75 197.50,105.81 198.50,105.87 199.50,105.94 200.50,106.01 201.50,106.07 202.50,106.14 203.50,106.20 204.50,106.27 205.50,106.34 206.50,106.40 207.50,106.47 208.50,106.55 209.50,106.67 210.50,106.79 211.50,106.91 212.50,107.03 213.50,107.15 214.50,107.27 215.50,107.39 216.50,107.51 217.50,107.63 218.50,107.74 219.50,107.86 220.50,107.90 221.50,107.94 222.50,107.98 223.50,108.02 224.50,108.06 225.50,108.10 226.50,108.14 227.50,108.32 228.50,108.71 229.50,109.10 230.50,109.49 231.50,109.88 232.50,110.22 233.50,109.78 234.50,109.03 235.50,108.28 236.50,107.52 237.50,106.77 238.50,106.04 239.50,105.50 240.50,104.96 241.50,104.43 242.50,103.89 243.50,103.36 244.50,102.82 245.50,102.50 246.50,102.50 246.50,115.60 245.50,115.60 244.50,115.68 243.50,115.83 242.50,115.98 241.50,116.13 240.50,116.28 239.50,116.43 238.50,116.58 237.50,117.50 236.50,118.50 235.50,119.50 234.50,120.50 233.50,121.50 232.50,122.09 231.50,121.72 230.50,121.35 229.50,120.98 228.50,120.62 227.50,120.25 226.50,119.88 225.50,119.51 224.50,119.00 223.50,118.43 222.50,117.86 221.50,117.29 220.50,116.88 219.50,116.65 218.50,116.42 217.50,116.18 216.50,115.95 215.50,115.72 214.50,115.77 213.50,116.11 212.50,116.45 211.50,116.78 210.50,117.12 209.50,117.46 208.50,117.80 207.50,117.88 206.50,117.84 205.50,117.81 204.50,117.77 203.50,117.74 202.50,117.70 201.50,117.66 200.50,117.63 199.50,117.59 198.50,117.56 197.50,117.52 196.50,117.44 195.50,117.24 194.50,117.03 193.50,116.83 192.50,116.62 191.50,116.42 190.50,116.22 189.50,116.01 188.50,115.81 187.50,115.61 186.50,115.40 185.50,115.20 184.50,114.99 183.50,114.78 182.50,114.57 181.50,114.36 180.50,114.15 179.50,113.94 178.50,113.73 177.50,113.52 176.50,113.31 175.50,113.09 174.50,112.88 173.50,112.70 172.50,112.53 171.50,112.36 170.50,112.19 169.50,112.03 168.50,111.86 167.50,111.69 166.50,111.52 165.50,111.35 164.50,111.19 163.50,111.02 162.50,110.80 161.50,110.46 160.50,110.12 159.50,109.78 158.50,109.44 157.50,109.10 156.50,108.76 155.50,108.41 154.50,108.07 153.50,107.73 152.50,107.41 151.50,107.08 150.50,106.75 149.50,106.42 148.50,106.10 147.50,105.77 146.50,105.44 145.50,105.12 144.50,104.79 143.50,104.46 142.50,104.21 141.50,104.03 140.50,103.85 139.50,103.67 138.50,103.49 137.50,103.31 136.50,103.13 135.50,103.00" fill="#ffe8dc"/>
<polygon points="135.50,103.00 136.50,103.13 137.50,103.31 138.50,103.49 139.50,103.67 140.50,103.85 141.50,104.03 142.50,104.21 143.50,104.46 144.50,104.79 145.50,105.12 146.50,105.44 147.50,105.77 148.50,106.10 149.50,106.42 150.50,106.75 151.50,107.08 152.50,107.41 153.50,107.73 154.50,108.07 155.50,108.41 156.50,108.76 157.50,109.10 158.50,109.44 159.50,109.78 160.50,110.12 161.50,110.46 162.50,110.80 163.50,111.02 164.50,111.19 165.50,111.35 166.50,111.52 167.50,111.69 168.50,111.86 169.50,112.03 170.50,112.19 171.50,112.36 172.50,112.53 173.50,112.70 174.50,112.88 175.50,113.09 176.50,113.31 177.50,113.52 178.50,113.73 179.50,113.94 180.50,114.15 181.50,114.36 182.50,114.57 183.50,114.78 184.50,114.99 185.50,115.20 186.50,115.40 187.50,115.61 188.50,115.81 189.50,116.01 190.50,116.22 191.50,116.42 192.50,116.62 193.50,116.83 194.50,117.03 195.50,117.24 196.50,117.44 197.50,117.52 198.50,117.56 199.50,117.59 200.50,117.63 201.50,117.66 202.50,117.70 203.50,117.74 204.50,117.77 205.50,117.81 206.50,117.84 207.50,117.88 208.50,117.80 209.50,117.46 210.50,117.12 211.50,116.78 212.50,116.45 213.50,116.11 214.50,115.77 215.50,115.72 216.50,115.95 217.50,116.18 218.50,116.42 219.50,116.65 220.50,116.88 221.50,117.29 222.50,117.86 223.50,118.43 224.50,119.00 225.50,119.51 226.50,119.88 227.50,120.25 228.50,120.62 229.50,120.98 230.50,121.35 231.50,121.72 232.50,122.09 233.50,121.50 234.50,120.50 235.50,119.50 236.50,118.50 237.50,117.50 238.50,116.58 239.50,116.43 240.50,116.28 241.50,116.13 242.50,115.98 243.50,115.83 244.50,115.68 245.50,115.60 246.50,115.60 246.50,125.60 245.50,125.60 244.50,125.68 243.50,125.83 242.50,125.98 241.50,126.13 240.50,126.28 239.50,126.43 238.50,126.58 237.50,127.50 236.50,128.50 235.50,129.50 234.50,130.50 233.50,131.50 232.50,132.23 231.50,132.15 230.50,132.07 229.50,131.98 228.50,131.90 227.50,131.82 226.50,131.74 225.50,131.51 224.50,131.00 223.50,130.43 222.50,129.86 221.50,129.29 220.50,128.88 219.50,128.65 218.50,128.42 217.50,128.18 216.50,127.95 215.50,127.72 214.50,127.77 213.50,128.11 212.50,128.45 211.50,128.78 210.50,129.12 209.50,129.46 208.50,129.80 207.50,129.88 206.50,129.84 205.50,129.81 204.50,129.67 203.50,129.44 202.50,129.20 201.50,128.96 200.50,128.73 199.50,128.49 198.50,128.26 197.50,128.02 196.50,127.74 195.50,127.34 194.50,126.93 193.50,126.53 192.50,126.12 191.50,125.72 190.50,125.32 189.50,124.99 188.50,124.74 187.50,124.48 186.50,124.23 185.50,123.98 184.50,123.71 183.50,123.45 182.50,123.19 181.50,122.93 180.50,122.67 179.50,122.41 178.50,122.15 177.50,121.89 176.50,121.63 175.50,121.37 174.50,121.11 173.50,120.87 172.50,120.66 171.50,120.44 170.50,120.22 169.50,119.88 168.50,119.43 167.50,118.98 166.50,118.52 165.50,118.07 164.50,117.61 163.50,117.16 162.50,116.82 161.50,116.51 160.50,116.21 159.50,115.90 158.50,115.60 157.50,115.30 156.50,114.99 155.50,114.69 154.50,114.38 153.50,114.08 152.50,113.79 151.50,113.50 150.50,113.21 149.50,112.92 148.50,112.63 147.50,112.33 146.50,112.04 145.50,111.75 144.50,111.46 143.50,111.17 142.50,110.96 141.50,110.81 140.50,110.67 139.50,110.52 138.50,110.38 137.50,110.23 136.50,110.09 135.50,110.00" fill="#bde2fa"/>
</g>
<g clip-path="url(#lO)">
<rect x="135.8" y="186.7" width="7.8" height="34.3" fill="#0c9a0c"/>
<rect x="143.3" y="180.7" width="6.6" height="40.3" fill="#0c9a0c"/>
<rect x="149.6" y="178.8" width="7.8" height="42.2" fill="#0c9a0c"/>
<rect x="157.1" y="202.8" width="7.3" height="18.2" fill="#0c9a0c"/>
<rect x="164.1" y="207.5" width="6.0" height="13.5" fill="#0c9a0c"/>
<rect x="169.8" y="217.9" width="7.5" height="3.1" fill="#0c9a0c"/>
<rect x="157.1" y="182" width="7" height="20.8" fill="#1030d0"/>
<rect x="164.1" y="205" width="5.7" height="2.5" fill="#1030d0"/>
</g>
<g clip-path="url(#lP)">
<clipPath id="lPf"><path d="M135.8,260.6 L143,259.7 L149.6,252.1 L157.1,248.7 L163.8,248.7 L170.4,244.6 L177.9,247.4 L191.2,253.1 L225.2,253.6 L234.6,257.8 L245,265 L245.5,307 L135.5,307 Z"/></clipPath>
<path d="M135.8,260.6 L143,259.7 L149.6,252.1 L157.1,248.7 L163.8,248.7 L170.4,244.6 L177.9,247.4 L191.2,253.1 L225.2,253.6 L234.6,257.8 L245,265 L245.5,307 L135.5,307 Z" fill="#ffff00"/>
<rect x="165.6" y="240" width="4.8" height="67" fill="#ffd400" clip-path="url(#lPf)"/>
</g>
<g clip-path="url(#lW)">
<defs><clipPath id="lWf"><path d="M135.8,365.1 L143,368.3 L153.4,371.2 L162.8,372.1 L170.4,374 L181.7,375.3 L189.3,374 L196.8,372.1 L225.2,372.1 L232.8,370.2 L245.5,369.3 L245.5,393 L135.5,393 Z"/></clipPath></defs>
<g clip-path="url(#lWf)">
<rect x="135.5" y="360" width="12.5" height="33" fill="#1ec81e"/>
<rect x="147.7" y="360" width="22.0" height="33" fill="#0a780a"/>
<rect x="169.4" y="360" width="27.7" height="33" fill="#0c3f80"/>
<rect x="196.8" y="360" width="14.5" height="33" fill="#0a780a"/>
<rect x="211" y="360" width="14.5" height="33" fill="#0c3f80"/>
<rect x="225.2" y="360" width="14.5" height="33" fill="#0a780a"/>
<rect x="239.4" y="360" width="6.4" height="33" fill="#1ec81e"/>
</g></g>
<rect x="135.5" y="436.5" width="110.0" height="78.0" fill="#87cefa"/>
<rect x="170.2" y="436.5" width="61.80000000000001" height="78.0" fill="#79b9e3"/>
<rect x="135.5" y="523.5" width="110.0" height="77.0" fill="#87cefa"/>
<rect x="170.2" y="523.5" width="61.80000000000001" height="77.0" fill="#79b9e3"/>
<g clip-path="url(#lB)">
<polygon points="135.4,606.2 164.6,606.2 166.0,588.1 170.1,578.4 175.0,575.1 178.5,569.4 183.4,567.7 186.8,561.7 189.6,553.4 193.8,546.4 199.3,545.0 203.5,542.9 207.0,538.1 210.5,528.3 217.4,524.9 231.3,524.2 236.9,531.1 245.2,543.6 245.2,606.2 135.4,606.2" fill="#ffffff"/>
<polygon points="135.4,606.2 193.1,606.2 193.4,574.6 193.8,546.4 197.3,531.1 203.5,532.8 207.7,533.2 211.9,529.0 217.4,527.0 231.3,525.6 234.1,523.5 245.2,523.5 245.2,606.2 135.4,606.2" fill="#a0a0a0"/>
<polygon points="135.4,571.4 143.0,563.1 149.3,575.6 156.2,582.6 164.6,585.3 167.4,588.8 175.7,592.3 177.5,593.0 184.6,569.5 191.6,569.5 192.3,572.7 193.5,574.6 197.3,583.5 204.3,595.8 212.0,588.7 213.2,584.0 213.5,569.5 217.4,547.8 225.8,535.3 231.3,536.7 239.7,554.8 245.2,565.9 245.2,606.2 135.4,606.2" fill="#585858"/>
<polygon points="135.4,606.2 135.4,600.6 139.6,595.1 149.3,590.9 156.2,595.1 163.2,600.6 164.6,606.2" fill="#333"/>
<polyline points="231.3,524.2 236.9,531.1 245.2,543.6" fill="none" stroke="#fff" stroke-width="0.9"/>
<polyline points="191.0,583.5 185.2,599.9" fill="none" stroke="#bbb" stroke-width="0.8"/>
<polyline points="135.4,588.1 142.3,595.1 149.3,599.2 163.2,600.6" fill="none" stroke="#bbb" stroke-width="0.8"/>
<rect x="217.2" y="590.3" width="2.6000000000000227" height="11" fill="#ffb400"/>
<rect x="224.2" y="590.3" width="2.5" height="11" fill="#ffb400"/>
<rect x="231.2" y="590.3" width="2.6000000000000227" height="11" fill="#ffb400"/>
<rect x="238" y="590.3" width="2.6999999999999886" height="11" fill="#ffb400"/>
</g>
<path d="M135.5,59.5 L245.5,59.5 M135.5,76.5 L245.5,76.5 M135.5,94.5 L245.5,94.5 M135.5,111.5 L245.5,111.5 M135.5,128.5 L245.5,128.5 M142.5,57.5 L142.5,133.5 M163.5,57.5 L163.5,133.5 M184.5,57.5 L184.5,133.5 M205.5,57.5 L205.5,133.5 M226.5,57.5 L226.5,133.5 " stroke="#000" stroke-width="1" stroke-dasharray="2,2" fill="none"/>
<path d="M135.5,150.5 L245.5,150.5 M135.5,168.5 L245.5,168.5 M135.5,185.5 L245.5,185.5 M135.5,203.5 L245.5,203.5 M142.5,143.5 L142.5,220.5 M163.5,143.5 L163.5,220.5 M184.5,143.5 L184.5,220.5 M205.5,143.5 L205.5,220.5 M226.5,143.5 L226.5,220.5 " stroke="#000" stroke-width="1" stroke-dasharray="2,2" fill="none"/>
<path d="M135.5,231.5 L245.5,231.5 M135.5,254.5 L245.5,254.5 M135.5,278.5 L245.5,278.5 M135.5,301.5 L245.5,301.5 M143.5,229.5 L143.5,306.5 M164.5,229.5 L164.5,306.5 M184.5,229.5 L184.5,306.5 M204.5,229.5 L204.5,306.5 M225.5,229.5 L225.5,306.5 " stroke="#000" stroke-width="1" stroke-dasharray="2,2" fill="none"/>
<path d="M135.5,334.5 L245.5,334.5 M135.5,354.5 L245.5,354.5 M135.5,373.5 L245.5,373.5 M143.5,315.5 L143.5,392.5 M164.5,315.5 L164.5,392.5 M184.5,315.5 L184.5,392.5 M204.5,315.5 L204.5,392.5 M225.5,315.5 L225.5,392.5 " stroke="#000" stroke-width="1" stroke-dasharray="2,2" fill="none"/>
<path d="M135.5,456.5 L245.5,456.5 M135.5,475.5 L245.5,475.5 M135.5,495.5 L245.5,495.5 M143.5,436.5 L143.5,514.5 M164.5,436.5 L164.5,514.5 M184.5,436.5 L184.5,514.5 M204.5,436.5 L204.5,514.5 M225.5,436.5 L225.5,514.5 " stroke="#000" stroke-width="1" stroke-dasharray="2,2" fill="none"/>
<path d="M135.5,543.5 L245.5,543.5 M135.5,562.5 L245.5,562.5 M135.5,582.5 L245.5,582.5 M143.5,523.5 L143.5,600.5 M164.5,523.5 L164.5,600.5 M184.5,523.5 L184.5,600.5 M204.5,523.5 L204.5,600.5 M225.5,523.5 L225.5,600.5 " stroke="#000" stroke-width="1" stroke-dasharray="2,2" fill="none"/>
<path d="M143.5,398.5 L143.5,430.5 M164.5,398.5 L164.5,430.5 M184.5,398.5 L184.5,430.5 M204.5,398.5 L204.5,430.5 M225.5,398.5 L225.5,430.5 " stroke="#000" stroke-width="1" stroke-dasharray="2,2" fill="none"/>
<g clip-path="url(#lT)">
<path d="M143.5,69.3 L143.5,111.8 M149.5,78.8 L149.5,92 M156.5,87.3 L156.5,98.6 M163.5,96.7 L163.5,106.2 M170.5,101 L170.5,113.7 M177.5,103 L177.5,118.4 M184.5,105 L184.5,121.3 M191.5,107 L191.5,123.2 M198.5,108 L198.5,124 M205.5,109 L205.5,123.2 M212.5,110 L212.5,128.8 M219.5,111 L219.5,129.7 M226.5,112 L226.5,132.6 M233.5,111.5 L233.5,132.6 M240.5,106.5 L240.5,120.3 " stroke="#a01818" stroke-width="1"/>
<polyline points="135.80,99.20 143.00,100.10 153.40,104.30 162.80,107.70 174.10,111.50 185.50,112.20 196.80,112.80 208.20,113.70 219.50,115.20 227.10,115.60 232.80,117.90 238.40,114.30 245.00,111.50" fill="none" stroke="#ff0000" stroke-width="2.2"/>
<polyline points="135.80,103.00 143.00,104.30 153.40,107.70 162.80,110.90 174.10,112.80 185.50,115.20 196.80,117.50 208.20,117.90 215.00,115.60 221.00,117.00 225.20,119.40 232.80,122.20 238.40,116.60 245.00,115.60" fill="none" stroke="#0000ff" stroke-width="2.2"/>
<rect x="141.7" y="112.2" width="2.6" height="2.6" fill="#6a5acd"/>
<rect x="148.29999999999998" y="112.5" width="2.6" height="2.6" fill="#6a5acd"/>
<rect x="155.29999999999998" y="113.9" width="2.6" height="2.6" fill="#6a5acd"/>
<rect x="162.5" y="114.3" width="2.6" height="2.6" fill="#6a5acd"/>
<rect x="176.1" y="115.2" width="2.6" height="2.6" fill="#6a5acd"/>
<rect x="190.2" y="116.0" width="2.6" height="2.6" fill="#6a5acd"/>
<rect x="203.1" y="117.10000000000001" width="2.6" height="2.6" fill="#6a5acd"/>
<rect x="218.2" y="119.0" width="2.6" height="2.6" fill="#6a5acd"/>
<rect x="225.2" y="119.9" width="2.6" height="2.6" fill="#6a5acd"/>
<rect x="232.39999999999998" y="119.2" width="2.6" height="2.6" fill="#6a5acd"/>
</g>
<g clip-path="url(#lO)">
<path d="M135.80,171.60 C136.37,171.28 138.02,170.48 139.20,169.70 C140.38,168.92 141.65,168.48 142.90,166.90 C144.15,165.32 145.43,161.93 146.70,160.20 C147.97,158.47 148.77,157.43 150.50,156.50 C152.23,155.57 154.73,155.23 157.10,154.60 C159.47,153.97 160.28,153.02 164.70,152.70 C169.12,152.38 179.50,153.33 183.60,152.70 C187.70,152.07 186.93,149.53 189.30,148.90 C191.67,148.27 195.28,147.95 197.80,148.90 C200.32,149.85 202.20,153.40 204.40,154.60 C206.60,155.80 208.80,156.48 211.00,156.10 C213.20,155.72 215.23,153.50 217.60,152.30 C219.97,151.10 222.67,149.08 225.20,148.90 C227.73,148.72 230.43,149.93 232.80,151.20 C235.17,152.47 237.37,154.37 239.40,156.50 C241.43,158.63 244.07,162.75 245.00,164.00" stroke="#e8501e" stroke-width="2" fill="none"/>
<line x1="139.6" y1="165" x2="139.6" y2="186.7" stroke="#10b010" stroke-width="1"/>
<line x1="146.4" y1="147.4" x2="146.4" y2="180.7" stroke="#10b010" stroke-width="1"/>
<line x1="153.4" y1="147.4" x2="153.4" y2="178.8" stroke="#10b010" stroke-width="1"/>
<rect x="145" y="146" width="2.8" height="2.8" fill="#ff0000"/><rect x="152" y="146" width="2.8" height="2.8" fill="#ff0000"/>
<line x1="136" y1="219.5" x2="170" y2="219.5" stroke="#ff2020" stroke-width="1.3" stroke-dasharray="2.5,1.5"/>
<circle cx="139.6" cy="173.5" r="2.1" fill="#ffe000" stroke="#704000" stroke-width="0.6"/>
<circle cx="146.4" cy="173.5" r="2.1" fill="#ffa000" stroke="#704000" stroke-width="0.6"/>
<circle cx="153.4" cy="173.5" r="2.1" fill="#ff2000" stroke="#704000" stroke-width="0.6"/>
</g>
<polyline points="135.80,260.60 143.00,259.70 149.60,252.10 157.10,248.70 163.80,248.70 170.40,244.60 177.90,247.40 191.20,253.10 225.20,253.60 234.60,257.80 245.00,265.00" fill="none" stroke="#000" stroke-width="2" clip-path="url(#lP)"/>
<g clip-path="url(#lW)">
<path d="M143,340.3 L148.6,340.3 M148,348.1 L161.9,348.1 M161.9,351.3 L169.4,351.3 M169.4,355.1 L176,355.1 M176,358.5 L184.5,358.5 M184.5,354.5 L190.2,354.5 M190.2,351.3 L196.8,351.3 M196.8,350.4 L211,350.4 M211,351.3 L225.2,351.3 M225.2,347.5 L232.4,347.5 M232.4,342.8 L245.5,342.8 " stroke="#ff0000" stroke-width="1.1" fill="none"/>
<rect x="137" y="315.5" width="2.5" height="2.5" fill="#ff0000"/>
<polyline points="135.80,365.10 143.00,368.30 153.40,371.20 162.80,372.10 170.40,374.00 181.70,375.30 189.30,374.00 196.80,372.10 225.20,372.10 232.80,370.20 245.50,369.30" fill="none" stroke="#0a1e96" stroke-width="2"/>
</g>
<clipPath id="lDa"><rect x="135.5" y="398.5" width="130" height="32.0"/></clipPath>
<g clip-path="url(#lDa)">
<line x1="132.7" y1="406" x2="136.0" y2="418.0" stroke="#0a0a9a" stroke-width="1.3"/>
<polygon points="137.7,423.8 133.4,418.8 138.6,417.3" fill="#0a0a9a"/>
<line x1="139.5" y1="406" x2="145.0" y2="418.3" stroke="#0a0a9a" stroke-width="1.3"/>
<polygon points="147.4,423.8 142.5,419.4 147.4,417.2" fill="#0a0a9a"/>
<line x1="146.3" y1="406" x2="151.5" y2="418.3" stroke="#0a0a9a" stroke-width="1.3"/>
<polygon points="153.8,423.8 149.0,419.3 154.0,417.2" fill="#0a0a9a"/>
<line x1="153.2" y1="406" x2="158.0" y2="418.2" stroke="#0a0a9a" stroke-width="1.3"/>
<polygon points="160.2,423.8 155.5,419.2 160.5,417.2" fill="#0a0a9a"/>
<line x1="160.0" y1="406" x2="164.1" y2="418.1" stroke="#0a0a9a" stroke-width="1.3"/>
<polygon points="166.0,423.8 161.5,419.0 166.6,417.3" fill="#0a0a9a"/>
<line x1="166.8" y1="406" x2="170.2" y2="418.0" stroke="#0a0a9a" stroke-width="1.3"/>
<polygon points="171.8,423.8 167.6,418.8 172.8,417.3" fill="#0a0a9a"/>
<line x1="173.7" y1="406" x2="176.3" y2="417.9" stroke="#0a0a9a" stroke-width="1.3"/>
<polygon points="177.7,423.8 173.7,418.5 179.0,417.4" fill="#0a0a9a"/>
<line x1="180.5" y1="406" x2="182.6" y2="417.9" stroke="#0a0a9a" stroke-width="1.3"/>
<polygon points="183.7,423.8 180.0,418.4 185.3,417.4" fill="#0a0a9a"/>
<line x1="187.3" y1="406" x2="190.0" y2="417.9" stroke="#0a0a9a" stroke-width="1.3"/>
<polygon points="191.3,423.8 187.4,418.5 192.6,417.4" fill="#0a0a9a"/>
<line x1="194.1" y1="406" x2="197.9" y2="418.1" stroke="#0a0a9a" stroke-width="1.3"/>
<polygon points="199.7,423.8 195.4,418.9 200.5,417.3" fill="#0a0a9a"/>
<line x1="201.0" y1="406" x2="206.0" y2="418.2" stroke="#0a0a9a" stroke-width="1.3"/>
<polygon points="208.3,423.8 203.5,419.3 208.5,417.2" fill="#0a0a9a"/>
<line x1="207.8" y1="406" x2="212.6" y2="418.2" stroke="#0a0a9a" stroke-width="1.3"/>
<polygon points="214.8,423.8 210.1,419.2 215.1,417.2" fill="#0a0a9a"/>
<line x1="214.6" y1="406" x2="219.4" y2="418.2" stroke="#0a0a9a" stroke-width="1.3"/>
<polygon points="221.6,423.8 216.9,419.2 221.9,417.2" fill="#0a0a9a"/>
<line x1="221.5" y1="406" x2="226.3" y2="418.2" stroke="#0a0a9a" stroke-width="1.3"/>
<polygon points="228.5,423.8 223.8,419.2 228.8,417.2" fill="#0a0a9a"/>
<line x1="228.3" y1="406" x2="233.1" y2="418.2" stroke="#0a0a9a" stroke-width="1.3"/>
<polygon points="235.3,423.8 230.6,419.2 235.6,417.2" fill="#0a0a9a"/>
<line x1="235.1" y1="406" x2="239.9" y2="418.2" stroke="#0a0a9a" stroke-width="1.3"/>
<polygon points="242.1,423.8 237.4,419.2 242.4,417.2" fill="#0a0a9a"/>
<line x1="241.9" y1="406" x2="246.8" y2="418.2" stroke="#0a0a9a" stroke-width="1.3"/>
<polygon points="248.9,423.8 244.2,419.2 249.3,417.2" fill="#0a0a9a"/>
</g>
<g clip-path="url(#lC)">
<path d="M135.80,470.60 C137.00,470.55 140.38,471.23 143.00,470.30 C145.62,469.37 148.20,466.12 151.50,465.00 C154.80,463.88 158.40,463.83 162.80,463.60 C167.20,463.37 174.12,463.05 177.90,463.60 C181.68,464.15 182.35,465.88 185.50,466.90 C188.65,467.92 193.33,469.08 196.80,469.70 C200.27,470.32 202.83,469.82 206.30,470.60 C209.77,471.38 214.45,473.77 217.60,474.40 C220.75,475.03 222.37,474.72 225.20,474.40 C228.03,474.08 231.30,473.28 234.60,472.50 C237.90,471.72 243.27,470.17 245.00,469.70" stroke="#ff9900" stroke-width="2" fill="none"/>
<circle cx="150.5" cy="458.4" r="2.5" fill="#aa1e1e"/>
<circle cx="157.5" cy="458.4" r="2.5" fill="#aa1e1e"/>
<circle cx="164.3" cy="459.9" r="2.5" fill="#aa1e1e"/>
<circle cx="170.4" cy="451.2" r="2.5" fill="#aa1e1e"/>
<circle cx="177.4" cy="449.3" r="2.5" fill="#aa1e1e"/>
<circle cx="184.5" cy="449.3" r="2.5" fill="#aa1e1e"/>
<circle cx="191.5" cy="449.3" r="2.5" fill="#aa1e1e"/>
<circle cx="198.3" cy="451.2" r="2.5" fill="#aa1e1e"/>
<circle cx="204.4" cy="449.3" r="2.5" fill="#aa1e1e"/>
<circle cx="211.4" cy="449.3" r="2.5" fill="#aa1e1e"/>
<circle cx="218.2" cy="449.3" r="2.5" fill="#aa1e1e"/>
<circle cx="225.4" cy="449.3" r="2.5" fill="#aa1e1e"/>
<circle cx="232.4" cy="449.3" r="2.5" fill="#aa1e1e"/>
<circle cx="239.4" cy="449.3" r="2.5" fill="#aa1e1e"/>
<circle cx="246.0" cy="449.3" r="2.5" fill="#aa1e1e"/>
<circle cx="137.3" cy="475.0" r="2.5" fill="#aa1e1e"/>
<circle cx="143.3" cy="475.0" r="2.5" fill="#aa1e1e"/>
<circle cx="191.2" cy="456.5" r="2.5" fill="#111"/>
<circle cx="198.3" cy="464.4" r="2.5" fill="#111"/>
<circle cx="204.4" cy="467.8" r="2.5" fill="#111"/>
<circle cx="211.4" cy="470.1" r="2.5" fill="#111"/>
<circle cx="198.3" cy="468.8" r="2.5" fill="#555"/>
<circle cx="143.3" cy="481.0" r="2.5" fill="#555"/>
<circle cx="211.4" cy="481.0" r="2.5" fill="#777"/>
<circle cx="218.2" cy="481.0" r="2.5" fill="#111"/>
<circle cx="225.4" cy="485.2" r="2.5" fill="#111"/>
<circle cx="239.4" cy="481.0" r="2.5" fill="#111"/>
<circle cx="246.0" cy="476.3" r="2.5" fill="#111"/>
<circle cx="150.5" cy="492.4" r="2.5" fill="#555"/>
<circle cx="157.5" cy="492.4" r="2.5" fill="#555"/>
<circle cx="164.3" cy="492.4" r="2.5" fill="#555"/>
<circle cx="170.4" cy="489.5" r="2.5" fill="#ddd"/>
<circle cx="177.4" cy="489.5" r="2.5" fill="#999"/>
<circle cx="184.5" cy="489.5" r="2.5" fill="#111"/>
<circle cx="191.5" cy="489.5" r="2.5" fill="#777"/>
<circle cx="198.3" cy="485.2" r="2.5" fill="#999"/>
<circle cx="204.4" cy="491.4" r="2.5" fill="#fff"/>
<circle cx="211.4" cy="485.8" r="2.5" fill="#888"/>
<circle cx="218.2" cy="489.5" r="2.5" fill="#777"/>
<circle cx="225.4" cy="492.4" r="2.5" fill="#555"/>
<circle cx="232.4" cy="489.5" r="2.5" fill="#111"/>
<circle cx="239.4" cy="494.3" r="2.5" fill="#999"/>
<circle cx="143.3" cy="500.3" r="2.5" fill="#888"/>
<circle cx="150.5" cy="500.3" r="2.5" fill="#fff"/>
<circle cx="164.3" cy="499.6" r="2.5" fill="#fff"/>
<circle cx="184.5" cy="500.3" r="2.5" fill="#555"/>
<circle cx="191.5" cy="500.3" r="2.5" fill="#fff"/>
<circle cx="218.2" cy="500.3" r="2.5" fill="#ccc"/>
<circle cx="225.4" cy="500.3" r="2.5" fill="#ccc"/>
<circle cx="232.4" cy="500.3" r="2.5" fill="#999"/>
<circle cx="239.4" cy="500.3" r="2.5" fill="#ccc"/>
<circle cx="246.0" cy="500.3" r="2.5" fill="#fff"/>
<circle cx="137.3" cy="505.6" r="2.5" fill="#ddd"/>
<circle cx="143.3" cy="505.6" r="2.5" fill="#fff"/>
<circle cx="184.5" cy="504.7" r="2.5" fill="#888"/>
<circle cx="184.5" cy="509.4" r="2.5" fill="#fff"/>
<circle cx="218.2" cy="509.4" r="2.5" fill="#fff"/>
<circle cx="225.4" cy="509.4" r="2.5" fill="#fff"/>
<circle cx="232.4" cy="509.4" r="2.5" fill="#fff"/>
<circle cx="239.4" cy="509.4" r="2.5" fill="#fff"/>
<circle cx="170.4" cy="492.4" r="2.5" fill="#fff"/>
<circle cx="177.4" cy="492.4" r="2.5" fill="#fff"/>
<circle cx="198.3" cy="492.4" r="2.5" fill="#fff"/>
<circle cx="211.4" cy="492.4" r="2.5" fill="#ddd"/>
</g>
<rect x="135.5" y="57.5" width="110.0" height="76.0" fill="none" stroke="#000" stroke-width="1"/>
<rect x="135.5" y="143.5" width="110.0" height="77.0" fill="none" stroke="#000" stroke-width="1"/>
<rect x="135.5" y="229.5" width="110.0" height="77.0" fill="none" stroke="#000" stroke-width="1"/>
<rect x="135.5" y="315.5" width="110.0" height="77.0" fill="none" stroke="#000" stroke-width="1"/>
<rect x="135.5" y="398.5" width="110.0" height="32.0" fill="none" stroke="#000" stroke-width="1"/>
<rect x="135.5" y="436.5" width="110.0" height="78.0" fill="none" stroke="#000" stroke-width="1"/>
<rect x="135.5" y="523.5" width="110.0" height="77.0" fill="none" stroke="#000" stroke-width="1"/>
<text x="128.50" y="63.80" font-size="11.2" fill="#000" text-anchor="end">30</text>
<text x="265.90" y="63.80" font-size="11.2" fill="#000" text-anchor="end">30</text>
<text x="128.50" y="81.00" font-size="11.2" fill="#000" text-anchor="end">20</text>
<text x="265.90" y="81.00" font-size="11.2" fill="#000" text-anchor="end">20</text>
<text x="128.50" y="98.80" font-size="11.2" fill="#000" text-anchor="end">10</text>
<text x="265.90" y="98.80" font-size="11.2" fill="#000" text-anchor="end">10</text>
<text x="128.50" y="115.80" font-size="11.2" fill="#000" text-anchor="end">0</text>
<text x="265.90" y="115.80" font-size="11.2" fill="#000" text-anchor="end">0</text>
<text x="128.50" y="132.80" font-size="11.2" fill="#000" text-anchor="end">-10</text>
<text x="265.90" y="132.80" font-size="11.2" fill="#000" text-anchor="end">-10</text>
<text x="128.50" y="154.80" font-size="11.2" fill="#000" text-anchor="end">2.0</text>
<text x="128.50" y="172.80" font-size="11.2" fill="#000" text-anchor="end">1.5</text>
<text x="128.50" y="189.80" font-size="11.2" fill="#000" text-anchor="end">1.0</text>
<text x="128.50" y="207.80" font-size="11.2" fill="#000" text-anchor="end">0.5</text>
<text x="128.50" y="223.40" font-size="11.2" fill="#000" text-anchor="end">0.0</text>
<text x="253.50" y="153.00" font-size="11.2" fill="#e8501e">96</text>
<text x="253.50" y="170.60" font-size="11.2" fill="#e8501e">84</text>
<text x="253.50" y="187.70" font-size="11.2" fill="#e8501e">73</text>
<text x="253.50" y="205.60" font-size="11.2" fill="#e8501e">61</text>
<text x="253.50" y="222.60" font-size="11.2" fill="#e8501e">50</text>
<text x="128.50" y="234.70" font-size="11.2" fill="#000" text-anchor="end">1018</text>
<text x="250.70" y="234.70" font-size="11.2" fill="#000">1018</text>
<text x="128.50" y="257.70" font-size="11.2" fill="#000" text-anchor="end">1016</text>
<text x="250.70" y="257.70" font-size="11.2" fill="#000">1016</text>
<text x="128.50" y="281.60" font-size="11.2" fill="#000" text-anchor="end">1014</text>
<text x="250.70" y="281.60" font-size="11.2" fill="#000">1014</text>
<text x="128.50" y="304.30" font-size="11.2" fill="#000" text-anchor="end">1012</text>
<text x="250.70" y="304.30" font-size="11.2" fill="#000">1012</text>
<text x="128.50" y="318.30" font-size="11.2" fill="#000" text-anchor="end">20</text>
<text x="128.50" y="338.30" font-size="11.2" fill="#000" text-anchor="end">15</text>
<text x="128.50" y="357.10" font-size="11.2" fill="#000" text-anchor="end">10</text>
<text x="128.50" y="376.10" font-size="11.2" fill="#000" text-anchor="end">5</text>
<text x="128.50" y="394.90" font-size="11.2" fill="#000" text-anchor="end">0</text>
<text x="256.60" y="318.60" font-size="11.2" fill="#000" text-anchor="middle">72</text>
<text x="256.60" y="337.50" font-size="11.2" fill="#000" text-anchor="middle">54</text>
<text x="256.60" y="357.00" font-size="11.2" fill="#000" text-anchor="middle">36</text>
<text x="256.60" y="376.50" font-size="11.2" fill="#000" text-anchor="middle">18</text>
<text x="256.60" y="394.80" font-size="11.2" fill="#000" text-anchor="middle">0</text>
<text x="128.50" y="439.50" font-size="11.2" fill="#000" text-anchor="end">15.0</text>
<text x="128.50" y="459.10" font-size="11.2" fill="#000" text-anchor="end">7.0</text>
<text x="128.50" y="478.30" font-size="11.2" fill="#000" text-anchor="end">2.0</text>
<text x="128.50" y="497.90" font-size="11.2" fill="#000" text-anchor="end">0.5</text>
<text x="128.50" y="516.70" font-size="11.2" fill="#000" text-anchor="end">0.0</text>
<text x="128.50" y="526.10" font-size="11.2" fill="#000" text-anchor="end">8</text>
<text x="128.50" y="545.70" font-size="11.2" fill="#000" text-anchor="end">6</text>
<text x="128.50" y="565.30" font-size="11.2" fill="#000" text-anchor="end">4</text>
<text x="128.50" y="585.20" font-size="11.2" fill="#000" text-anchor="end">2</text>
<text x="128.50" y="604.50" font-size="11.2" fill="#000" text-anchor="end">0</text>
<text x="250.70" y="439.50" font-size="11.2" fill="#ff8000">100</text>
<text x="250.70" y="459.60" font-size="11.2" fill="#ff8000">20</text>
<text x="250.70" y="478.50" font-size="11.2" fill="#ff8000">5</text>
<text x="250.70" y="498.00" font-size="11.2" fill="#ff8000">1</text>
<text x="250.70" y="517.00" font-size="11.2" fill="#ff8000">0</text>
<text x="250.70" y="526.00" font-size="11.2" fill="#ff8000">1</text>
<text x="250.70" y="545.90" font-size="11.2" fill="#ff8000">0.75</text>
<text x="250.70" y="564.80" font-size="11.2" fill="#ff8000">0.5</text>
<text x="250.70" y="585.20" font-size="11.2" fill="#ff8000">0.25</text>
<text x="250.70" y="603.60" font-size="11.2" fill="#ff8000">0</text>
<text x="163.80" y="51.50" font-size="11.5" fill="#000" text-anchor="middle">20</text>
<text x="204.10" y="51.50" font-size="11.5" fill="#000" text-anchor="middle">02</text>
<text x="244.70" y="51.50" font-size="11.5" fill="#000" text-anchor="middle">08</text>
<text x="162.50" y="614.90" font-size="11.5" fill="#000" text-anchor="middle">18</text>
<text x="204.10" y="614.90" font-size="11.5" fill="#000" text-anchor="middle">00</text>
<text x="244.70" y="614.90" font-size="11.5" fill="#000" text-anchor="middle">06</text>
<text x="6.00" y="17.90" font-size="11.2" fill="#000" textLength="58.9" lengthAdjust="spacingAndGlyphs" stroke="#000" stroke-width="0.12">Czas lokalny</text>
<text x="6.00" y="29.60" font-size="11.2" fill="#000" textLength="54.1" lengthAdjust="spacingAndGlyphs" stroke="#000" stroke-width="0.12">(CET/CEST)</text>
<text x="6.00" y="45.80" font-size="11.2" fill="#b22222" textLength="93" lengthAdjust="spacingAndGlyphs" stroke="#b22222" stroke-width="0.12">Temperatura gruntu</text>
<text x="27.30" y="55.50" font-size="11.2" fill="#b22222" textLength="38.4" lengthAdjust="spacingAndGlyphs" stroke="#b22222" stroke-width="0.12">max/min</text>
<text x="5.10" y="67.80" font-size="11.2" fill="#000" textLength="62.3" lengthAdjust="spacingAndGlyphs" stroke="#000" stroke-width="0.12">Temperatura:</text>
<text x="12.80" y="79.80" font-size="11.2" fill="#ff0000" textLength="76.8" lengthAdjust="spacingAndGlyphs" stroke="#ff0000" stroke-width="0.12">punkt środkowy</text>
<text x="27.30" y="89.10" font-size="11.2" fill="#ffc8b8" textLength="38.4" lengthAdjust="spacingAndGlyphs" stroke="#ffc8b8" stroke-width="0.12">max/min</text>
<text x="9.90" y="101.40" font-size="11.2" fill="#0000ff" textLength="57.2" lengthAdjust="spacingAndGlyphs" stroke="#0000ff" stroke-width="0.12">odczuwana</text>
<text x="27.30" y="111.30" font-size="11.2" fill="#a8dcff" textLength="38.4" lengthAdjust="spacingAndGlyphs" stroke="#a8dcff" stroke-width="0.12">max/min</text>
<text x="6.50" y="122.40" font-size="11.2" fill="#6464dc" textLength="86.5" lengthAdjust="spacingAndGlyphs" stroke="#6464dc" stroke-width="0.12">Temp. punktu rosy</text>
<text x="6.00" y="140.70" font-size="11.2" fill="#ff0000" textLength="94" lengthAdjust="spacingAndGlyphs" stroke="#ff0000" stroke-width="0.12">Opad powyżej skali</text>
<text x="6.00" y="154.90" font-size="11.2" fill="#e8501e" textLength="97.3" lengthAdjust="spacingAndGlyphs" stroke="#e8501e" stroke-width="0.12">Wilgotność względna</text>
<text x="6.00" y="168.50" font-size="11.2" fill="#000" textLength="84.5" lengthAdjust="spacingAndGlyphs" stroke="#000" stroke-width="0.12">Wystąpienie burzy</text>
<text x="6.00" y="182.50" font-size="11.2" fill="#10b010" textLength="63" lengthAdjust="spacingAndGlyphs" stroke="#10b010" stroke-width="0.12">Deszcz: max</text>
<text x="48.70" y="193.00" font-size="11.2" fill="#10b010" textLength="29.8" lengthAdjust="spacingAndGlyphs" stroke="#10b010" stroke-width="0.12">średni</text>
<text x="6.00" y="204.60" font-size="11.2" fill="#2244dd" textLength="29" lengthAdjust="spacingAndGlyphs" stroke="#2244dd" stroke-width="0.12">Śnieg:</text>
<text x="48.70" y="204.60" font-size="11.2" fill="#2244dd" textLength="19.3" lengthAdjust="spacingAndGlyphs" stroke="#2244dd" stroke-width="0.12">max</text>
<text x="48.70" y="215.40" font-size="11.2" fill="#2244dd" textLength="29.8" lengthAdjust="spacingAndGlyphs" stroke="#2244dd" stroke-width="0.12">średni</text>
<text x="5.00" y="227.30" font-size="11.2" fill="#ff0000" textLength="89" lengthAdjust="spacingAndGlyphs" stroke="#ff0000" stroke-width="0.12">Wystąpienie opadu</text>
<text x="6.00" y="240.50" font-size="11.2" fill="#ff0000" textLength="71" lengthAdjust="spacingAndGlyphs" stroke="#ff0000" stroke-width="0.12">konwekcyjnego</text>
<text x="4.80" y="266.60" font-size="11.2" fill="#000" textLength="42.2" lengthAdjust="spacingAndGlyphs" stroke="#000" stroke-width="0.12">Ciśnienie</text>
<text x="4.80" y="280.00" font-size="11.2" fill="#000" textLength="66.1" lengthAdjust="spacingAndGlyphs" stroke="#000" stroke-width="0.12">zredukowane</text>
<text x="4.80" y="292.20" font-size="11.2" fill="#000" textLength="87.4" lengthAdjust="spacingAndGlyphs" stroke="#000" stroke-width="0.12">do poziomu morza</text>
<text x="4.80" y="321.60" font-size="11.2" fill="#000" textLength="66.1" lengthAdjust="spacingAndGlyphs" stroke="#000" stroke-width="0.12">Wiatr na 10m:</text>
<text x="9.90" y="337.40" font-size="11.2" fill="#ff0000" textLength="100.1" lengthAdjust="spacingAndGlyphs" stroke="#ff0000" stroke-width="0.12">poryw powyżej skali</text>
<text x="9.90" y="351.10" font-size="11.2" fill="#ff0000" textLength="94.2" lengthAdjust="spacingAndGlyphs" stroke="#ff0000" stroke-width="0.12">max porywy wiatru</text>
<text x="9.90" y="370.70" font-size="11.2" fill="#0a0a90" textLength="78.0" lengthAdjust="spacingAndGlyphs" stroke="#0a0a90" stroke-width="0.12">prędkość wiatru</text>
<text x="9.90" y="384.10" font-size="11.2" fill="#0a0a90" textLength="88.3" lengthAdjust="spacingAndGlyphs" stroke="#0a0a90" stroke-width="0.12">w środku obszaru</text>
<text x="9.90" y="412.00" font-size="11.2" fill="#0a0a90" textLength="73.4" lengthAdjust="spacingAndGlyphs" stroke="#0a0a90" stroke-width="0.12">kierunek wiatru</text>
<text x="6.00" y="431.90" font-size="11.2" fill="#b22222" textLength="91" lengthAdjust="spacingAndGlyphs" stroke="#b22222" stroke-width="0.12">Wierzchołek chmur</text>
<text x="6.00" y="447.20" font-size="11.2" fill="#000" textLength="84.5" lengthAdjust="spacingAndGlyphs" stroke="#000" stroke-width="0.12">Podstawa chmur*</text>
<text x="6.00" y="458.30" font-size="11.2" fill="#000" textLength="47" lengthAdjust="spacingAndGlyphs" stroke="#000" stroke-width="0.12">o pokryciu</text>
<text x="10.60" y="471.40" font-size="11.2" fill="#000" textLength="43.7" lengthAdjust="spacingAndGlyphs" stroke="#000" stroke-width="0.12">&gt; 7.9 okt.</text>
<text x="10.60" y="482.20" font-size="11.2" fill="#555" textLength="43.7" lengthAdjust="spacingAndGlyphs" stroke="#555" stroke-width="0.12">&gt; 6.5 okt.</text>
<text x="10.60" y="493.00" font-size="11.2" fill="#a0a0a0" textLength="43.7" lengthAdjust="spacingAndGlyphs" stroke="#a0a0a0" stroke-width="0.12">&gt; 4.5 okt.</text>
<text x="10.60" y="503.00" font-size="11.2" fill="#d8d0c8" textLength="43.7" lengthAdjust="spacingAndGlyphs" stroke="#d8d0c8" stroke-width="0.12">&gt; 2.5 okt.</text>
<rect x="11.1" y="505.3" width="43.5" height="10.9" fill="#87cefa"/>
<text x="11.50" y="514.10" font-size="11.2" fill="#fff" textLength="42.8" lengthAdjust="spacingAndGlyphs" stroke="#fff" stroke-width="0.12">&gt; 0.1 okt.</text>
<text x="6.00" y="529.50" font-size="11.2" fill="#ff8000" textLength="57.2" lengthAdjust="spacingAndGlyphs" stroke="#ff8000" stroke-width="0.12">Widzialność</text>
<text x="6.00" y="546.60" font-size="11.2" fill="#000" textLength="38.4" lengthAdjust="spacingAndGlyphs" stroke="#000" stroke-width="0.12">Chmury:</text>
<rect x="10.2" y="551.1" width="41" height="11.4" fill="#87cefa"/>
<text x="11.00" y="559.60" font-size="11.2" fill="#fff" textLength="39.5" lengthAdjust="spacingAndGlyphs" stroke="#fff" stroke-width="0.12">wysokie</text>
<text x="9.90" y="572.40" font-size="11.2" fill="#a8a8a8" textLength="35.3" lengthAdjust="spacingAndGlyphs" stroke="#a8a8a8" stroke-width="0.12">średnie</text>
<text x="9.90" y="584.40" font-size="11.2" fill="#404040" textLength="26.3" lengthAdjust="spacingAndGlyphs" stroke="#404040" stroke-width="0.12">niskie</text>
<text x="9.90" y="596.30" font-size="11.2" fill="#303030" textLength="61.0" lengthAdjust="spacingAndGlyphs" stroke="#303030" stroke-width="0.12">bardzo niskie</text>
<text x="6.00" y="608.30" font-size="11.2" fill="#ffb000" textLength="20.5" lengthAdjust="spacingAndGlyphs" stroke="#ffb000" stroke-width="0.12">Mgła</text>
<text x="6.00" y="625.60" font-size="12.2" fill="#000" textLength="131.4" lengthAdjust="spacingAndGlyphs" stroke="#000" stroke-width="0.12">Czas uniwersalny (UTC)</text>
<text x="5.10" y="650.70" font-size="9.5" fill="#000" font-weight="bold" textLength="103.3" lengthAdjust="spacingAndGlyphs">* powyżej poziomu morza</text>
<polyline points="68.00,16.50 133.00,16.50 158.00,44.00" fill="none" stroke="#000" stroke-width="1"/>
<polyline points="102.00,43.50 121.00,43.50 153.00,83.00" fill="none" stroke="#b22222" stroke-width="1"/>
<polyline points="92.00,76.50 115.00,76.50" fill="none" stroke="#ff0000" stroke-width="1"/>
<polyline points="130.00,76.50 133.00,76.50 156.00,102.00" fill="none" stroke="#ff0000" stroke-width="1"/>
<polyline points="70.00,99.50 131.00,99.50 137.00,103.00" fill="none" stroke="#0000ff" stroke-width="1"/>
<polyline points="95.60,120.50 130.00,120.50 137.00,117.00 142.00,113.00" fill="none" stroke="#6464dc" stroke-width="1"/>
<polyline points="103.00,137.50 143.00,137.50 146.40,147.00" fill="none" stroke="#ff0000" stroke-width="1"/>
<polyline points="105.90,151.50 111.80,151.50" fill="none" stroke="#e8501e" stroke-width="1"/>
<polyline points="129.70,151.00 146.70,160.00" fill="none" stroke="#e8501e" stroke-width="1"/>
<polyline points="94.00,166.50 112.70,166.50" fill="none" stroke="#000" stroke-width="1"/>
<polyline points="129.00,166.00 133.00,166.50 139.60,172.00" fill="none" stroke="#000" stroke-width="1"/>
<polyline points="71.70,179.50 139.60,179.50" fill="none" stroke="#10b010" stroke-width="1"/>
<polyline points="80.20,190.50 136.00,190.50" fill="none" stroke="#10b010" stroke-width="1"/>
<polyline points="70.00,202.50 111.80,202.50" fill="none" stroke="#2244dd" stroke-width="1"/>
<polyline points="129.70,202.00 133.00,202.00 160.00,174.40" fill="none" stroke="#2244dd" stroke-width="1"/>
<polyline points="81.00,213.50 132.60,213.50 161.00,183.00" fill="none" stroke="#2244dd" stroke-width="1"/>
<polyline points="97.00,225.50 143.90,225.50 146.70,220.40" fill="none" stroke="#ff0000" stroke-width="1"/>
<polyline points="51.00,264.50 131.50,264.50 136.00,261.00" fill="none" stroke="#000" stroke-width="1"/>
<polyline points="111.80,334.50 117.80,334.50" fill="none" stroke="#ff0000" stroke-width="1"/>
<polyline points="130.00,334.50 132.00,333.00 138.00,316.30" fill="none" stroke="#ff0000" stroke-width="1"/>
<polyline points="107.60,348.50 131.50,348.50 143.00,340.30" fill="none" stroke="#ff0000" stroke-width="1"/>
<polyline points="92.20,367.50 136.60,367.50" fill="none" stroke="#0a0a90" stroke-width="1"/>
<polyline points="86.20,410.50 140.00,410.50" fill="none" stroke="#0a0a90" stroke-width="1"/>
<polyline points="100.00,430.50 140.00,430.50 184.50,447.30" fill="none" stroke="#b22222" stroke-width="1"/>
<polyline points="57.20,468.50 132.30,468.50 135.80,465.60 191.20,456.20" fill="none" stroke="#000" stroke-width="1"/>
<polyline points="57.00,480.50 141.00,480.50" fill="none" stroke="#555" stroke-width="1"/>
<polyline points="57.00,490.50 130.00,490.50 141.00,495.00" fill="none" stroke="#999" stroke-width="1"/>
<polyline points="57.00,500.50 130.00,500.50 137.00,505.00" fill="none" stroke="#ccc" stroke-width="1"/>
<polyline points="57.00,509.50 137.00,509.50" fill="none" stroke="#87cefa" stroke-width="1"/>
<polyline points="57.00,511.00 137.00,511.00" fill="none" stroke="#87cefa" stroke-width="1"/>
<polyline points="67.40,527.50 129.80,527.50 175.00,464.00" fill="none" stroke="#ff9900" stroke-width="1"/>
<polyline points="53.00,556.50 190.00,556.50" fill="none" stroke="#87cefa" stroke-width="1"/>
<polyline points="53.00,558.50 190.00,558.50" fill="none" stroke="#87cefa" stroke-width="1"/>
<polyline points="50.00,571.50 190.00,571.50" fill="none" stroke="#999" stroke-width="1"/>
<polyline points="40.00,582.50 122.00,582.50" fill="none" stroke="#404040" stroke-width="1"/>
<polyline points="130.00,582.50 137.00,582.50" fill="none" stroke="#404040" stroke-width="1"/>
<polyline points="74.00,594.50 137.00,594.50" fill="none" stroke="#333" stroke-width="1"/>
<polyline points="30.00,605.50 216.00,605.50 218.00,600.00" fill="none" stroke="#ffb000" stroke-width="1"/>
<polyline points="138.20,624.00 143.30,622.40 157.00,608.70" fill="none" stroke="#000" stroke-width="1"/>
<rect x="4.8" y="0" width="1.2" height="1.3" fill="#000"/>
<defs>
<linearGradient id="bg1" x1="0" y1="0" x2="1" y2="0">
<stop offset="0" stop-color="#1450a4"/><stop offset="0.22" stop-color="#1a56a8"/>
<stop offset="0.33" stop-color="#3370bc"/><stop offset="0.40" stop-color="#3a76c0"/><stop offset="0.47" stop-color="#3470bc"/>
<stop offset="0.53" stop-color="#1c56a8"/><stop offset="1" stop-color="#1a52a6"/></linearGradient>
<radialGradient id="glow1" cx="0.5" cy="0.5" r="0.5"><stop offset="0" stop-color="#3f7fc8" stop-opacity="0.9"/><stop offset="1" stop-color="#3f7fc8" stop-opacity="0"/></radialGradient>
<radialGradient id="glow2" cx="0.5" cy="0.5" r="0.5"><stop offset="0" stop-color="#4a86cc" stop-opacity="0.7"/><stop offset="1" stop-color="#4a86cc" stop-opacity="0"/></radialGradient>
<linearGradient id="bgv" x1="0" y1="0" x2="0" y2="1"><stop offset="0" stop-color="#000" stop-opacity="0"/><stop offset="0.85" stop-color="#000" stop-opacity="0"/><stop offset="1" stop-color="#001040" stop-opacity="0.12"/></linearGradient>
<filter id="blur4" x="-50%" y="-50%" width="200%" height="200%"><feGaussianBlur stdDeviation="7"/></filter>
<clipPath id="bclip"><rect x="280" y="0" width="540" height="119.5"/></clipPath>
</defs>
<g clip-path="url(#bclip)">
<rect x="280" y="0" width="540" height="119.5" fill="url(#bg1)"/>
<ellipse cx="495" cy="50" rx="45" ry="90" fill="url(#glow1)" transform="rotate(15 495 50)" opacity="0.6"/>
<circle cx="740" cy="38" r="38" fill="none" stroke="#3a76c2" stroke-opacity="0.35" stroke-width="22" filter="url(#blur4)"/>
<rect x="280" y="0" width="540" height="119.5" fill="url(#bgv)"/>
<rect x="552.3" y="5" width="54.5" height="130" rx="8" fill="#2b2d33" stroke="#6b6e74" stroke-width="0.9"/>
<rect x="553.5" y="6.2" width="52" height="128" rx="7" fill="#0c0d10"/>
<rect x="556" y="8.5" width="47.5" height="52" rx="5" fill="#13315f"/>
<rect x="556" y="55" width="47.5" height="70" fill="#08090b"/>
<rect x="576" y="11" width="13.5" height="4.5" rx="2.2" fill="#000"/>
<rect x="560.5" y="19" width="36" height="9.5" rx="2" fill="#0b1426"/>
<circle cx="601" cy="24" r="3" fill="#0b1426"/>
<text x="582" y="46" font-size="8" fill="#fff">2.5°</text>
<path d="M571,42 q0,-4 4,-4 q1,-3 4,-2 q3,0 3,3 q2,0 2,3 z" fill="none" stroke="#cfd8e8" stroke-width="0.8"/>
<rect x="567" y="51" width="7" height="4" rx="1" fill="#22375c"/><rect x="576" y="51" width="7" height="4" rx="1" fill="#22375c"/>
<rect x="558" y="63" width="42" height="10" rx="1.5" fill="#15171b"/>
<rect x="558" y="90" width="42" height="8" rx="1.5" fill="#15171b"/>
<rect x="558" y="103" width="42" height="8" rx="1.5" fill="#15171b"/>
<rect x="558" y="114" width="42" height="8" rx="1.5" fill="#15171b"/>
<rect x="558" y="63" width="8" height="24" rx="1.5" fill="#15171b"/><rect x="567" y="63" width="8" height="24" rx="1.5" fill="#15171b"/>
<rect x="613.7" y="21.5" width="54" height="120" rx="8" fill="#2a2c30" stroke="#6b6e74" stroke-width="0.9"/>
<rect x="615" y="23" width="51.5" height="117" rx="7" fill="#0e0f11"/>
<rect x="617.5" y="25.5" width="46.5" height="110" rx="5" fill="#4b4e4c"/>
<path d="M630,60 q8,10 12,25 q4,15 -2,35 l-12,0 q-2,-20 -6,-30 q-3,-18 8,-30z" fill="#9a8e76"/>
<path d="M645,45 q6,4 10,12 q2,10 -3,14 q-6,-6 -7,-26z" fill="#8a8270"/>
<path d="M620,90 q6,-4 10,4 q2,10 -4,14 q-6,-4 -6,-18z" fill="#3e423f"/>
<rect x="617" y="36.4" width="34.5" height="8" rx="1.5" fill="#e9ecef"/>
<circle cx="656" cy="40" r="3.2" fill="#e9ecef"/>
<rect x="632" y="27" width="13" height="4.3" rx="2" fill="#000"/>
<rect x="584" y="47.6" width="55.5" height="90" rx="8" fill="#2f3136" stroke="#6b6e74" stroke-width="0.9"/>
<rect x="585.3" y="49" width="53" height="88" rx="7" fill="#0d0e10"/>
<rect x="587" y="51" width="49.5" height="80" rx="5" fill="#f7f8fa"/>
<rect x="602" y="52.5" width="13.5" height="4.5" rx="2.2" fill="#000"/>
<rect x="588.5" y="61.5" width="35" height="7.5" rx="1.5" fill="#2a2c30"/>
<circle cx="628.6" cy="63.6" r="3" fill="#2a2c30"/>
<rect x="589.5" y="82" width="41" height="6" fill="#3d7fc0"/>
<rect x="589.5" y="86" width="41" height="4" fill="#8fc9ee"/>
<path d="M590,84 q10,-2 20,-1 q10,-2 20,-1" stroke="#c0392b" stroke-width="0.8" fill="none"/>
<path d="M589.5,98 q4,6 7,0 q5,-6 9,2 q5,6 9,-3 q6,-3 16,-2" stroke="#e07050" stroke-width="0.7" fill="none"/>
<line x1="589.5" y1="92" x2="630.5" y2="92" stroke="#dfe3e8" stroke-width="0.5"/>
<line x1="589.5" y1="96" x2="630.5" y2="96" stroke="#dfe3e8" stroke-width="0.5"/>
<line x1="589.5" y1="100" x2="630.5" y2="100" stroke="#dfe3e8" stroke-width="0.5"/>
<line x1="589.5" y1="104" x2="630.5" y2="104" stroke="#dfe3e8" stroke-width="0.5"/>
<line x1="589.5" y1="108" x2="630.5" y2="108" stroke="#dfe3e8" stroke-width="0.5"/>
<line x1="589.5" y1="112" x2="630.5" y2="112" stroke="#dfe3e8" stroke-width="0.5"/>
<line x1="589.5" y1="116" x2="630.5" y2="116" stroke="#dfe3e8" stroke-width="0.5"/>
<rect x="598" y="105" width="3" height="5" fill="#7cc47c"/><rect x="612" y="112" width="3" height="6" fill="#7cc47c"/>
<rect x="589.5" y="74" width="8" height="2" fill="#6b8fd6"/><rect x="620" y="72" width="9" height="3" fill="#6b8fd6"/>
<path d="M699.5,101.5 C694.5,96 699,83 714.8,77.2" stroke="#fff" stroke-width="1.7" fill="none"/>
<path d="M700.5,101.8 C704,101.5 707,100 709,97.5" stroke="#fff" stroke-width="1.1" fill="none"/>
<text x="708.70" y="95.40" font-size="17.5" fill="#fff" font-weight="bold" textLength="74.8" lengthAdjust="spacingAndGlyphs">icmmeteo</text>
<rect x="787" y="80.8" width="21" height="20.6" rx="1.5" fill="#fff"/>
<text x="790.20" y="95.80" font-size="12.5" fill="#1b4f9c" font-weight="bold">M°</text>
<text x="293.20" y="39.30" font-size="19.4" fill="#fff" textLength="156.4" lengthAdjust="spacingAndGlyphs">Oficjalna aplikacja</text>
<text x="293.20" y="67.50" font-size="19.4" fill="#fff" font-weight="bold" textLength="98.8" lengthAdjust="spacingAndGlyphs">Meteo ICM</text>
<text x="397.90" y="67.50" font-size="19.4" fill="#fff" textLength="104.4" lengthAdjust="spacingAndGlyphs">do pobrania</text>
<text x="293.20" y="95.60" font-size="19.4" fill="#fff" textLength="224" lengthAdjust="spacingAndGlyphs">w Google Play i App Store</text>
</g>
</svg>
</body></html>
